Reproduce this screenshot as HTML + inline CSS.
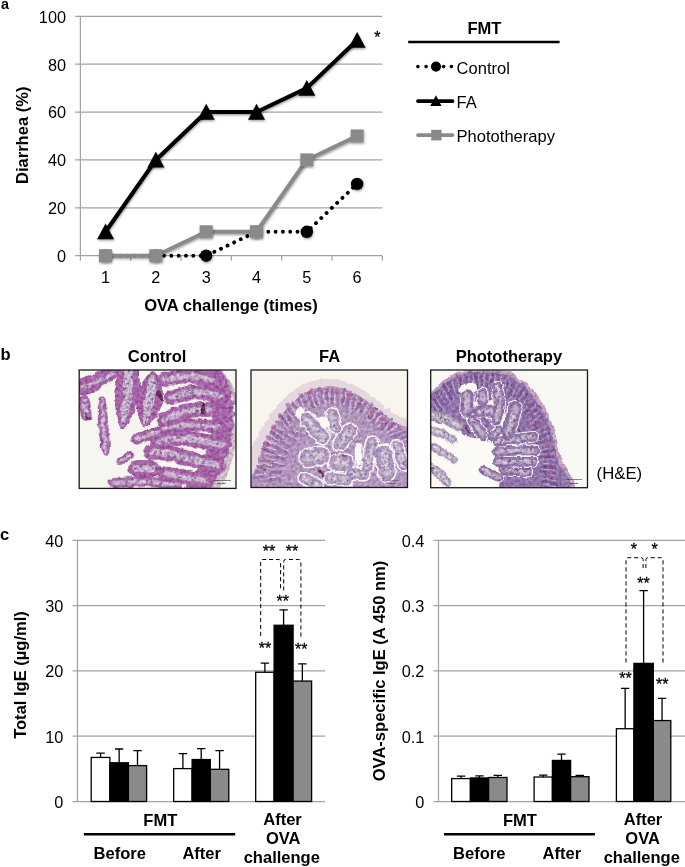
<!DOCTYPE html>
<html><head><meta charset="utf-8"><title>Figure</title>
<style>html,body{margin:0;padding:0;background:#fff}svg{display:block}text{font-family:"Liberation Sans",Arial,Helvetica,sans-serif;fill:#000}</style>
</head><body>
<svg width="685" height="867" viewBox="0 0 685 867">
<defs>
<filter id="sh" x="-30%" y="-30%" width="160%" height="160%"><feDropShadow dx="0.5" dy="1.3" stdDeviation="1" flood-color="#000" flood-opacity="0.4"/></filter>
<clipPath id="clip1"><rect x="0" y="0" width="685" height="519"/></clipPath>
<filter id="rough1" x="0" y="0" width="685" height="519" filterUnits="userSpaceOnUse" color-interpolation-filters="sRGB">
<feTurbulence type="fractalNoise" baseFrequency="0.04" numOctaves="2" seed="3" result="t"/>
<feDisplacementMap in="SourceGraphic" in2="t" scale="18" xChannelSelector="R" yChannelSelector="G" result="d"/>
<feTurbulence type="fractalNoise" baseFrequency="0.075" numOctaves="2" seed="12" result="n"/>
<feColorMatrix in="n" type="matrix" values="1.5 0 0 0 -0.25  1.5 0 0 0 -0.25  1.5 0 0 0 -0.25  0 0 0 0 1" result="g"/>
<feComposite in="d" in2="g" operator="arithmetic" k1="0.07" k2="0.78" k3="0.2" k4="0" result="m0"/>
<feComposite in="m0" in2="d" operator="in" result="m"/>
<feGaussianBlur in="m" stdDeviation="1.5"/>
</filter>
<filter id="soft1" x="0" y="0" width="685" height="519" filterUnits="userSpaceOnUse"><feTurbulence type="fractalNoise" baseFrequency="0.04" numOctaves="2" seed="3" result="t"/><feDisplacementMap in="SourceGraphic" in2="t" scale="18" xChannelSelector="R" yChannelSelector="G" result="d"/><feGaussianBlur in="d" stdDeviation="1.5"/></filter>
<filter id="spk1" x="0" y="0" width="685" height="519" filterUnits="userSpaceOnUse" color-interpolation-filters="sRGB">
<feTurbulence type="fractalNoise" baseFrequency="0.08" numOctaves="2" seed="8" result="n"/>
<feColorMatrix in="n" type="matrix" values="0 0 0 0 0.46  0 0 0 0 0.28  0 0 0 0 0.58  5.5 0 0 0 -2.95" result="s"/>
<feComposite in="s" in2="SourceAlpha" operator="in" result="s2"/>
<feMerge><feMergeNode in="SourceGraphic"/><feMergeNode in="s2"/></feMerge>
</filter>
<clipPath id="clip2"><rect x="0" y="0" width="685" height="515"/></clipPath>
<filter id="rough2" x="0" y="0" width="685" height="515" filterUnits="userSpaceOnUse" color-interpolation-filters="sRGB">
<feTurbulence type="fractalNoise" baseFrequency="0.04" numOctaves="2" seed="11" result="t"/>
<feDisplacementMap in="SourceGraphic" in2="t" scale="18" xChannelSelector="R" yChannelSelector="G" result="d"/>
<feTurbulence type="fractalNoise" baseFrequency="0.075" numOctaves="2" seed="20" result="n"/>
<feColorMatrix in="n" type="matrix" values="1.5 0 0 0 -0.25  1.5 0 0 0 -0.25  1.5 0 0 0 -0.25  0 0 0 0 1" result="g"/>
<feComposite in="d" in2="g" operator="arithmetic" k1="0.07" k2="0.78" k3="0.2" k4="0" result="m0"/>
<feComposite in="m0" in2="d" operator="in" result="m"/>
<feGaussianBlur in="m" stdDeviation="1.5"/>
</filter>
<filter id="soft2" x="0" y="0" width="685" height="515" filterUnits="userSpaceOnUse"><feTurbulence type="fractalNoise" baseFrequency="0.04" numOctaves="2" seed="11" result="t"/><feDisplacementMap in="SourceGraphic" in2="t" scale="18" xChannelSelector="R" yChannelSelector="G" result="d"/><feGaussianBlur in="d" stdDeviation="1.5"/></filter>
<filter id="spk2" x="0" y="0" width="685" height="515" filterUnits="userSpaceOnUse" color-interpolation-filters="sRGB">
<feTurbulence type="fractalNoise" baseFrequency="0.08" numOctaves="2" seed="16" result="n"/>
<feColorMatrix in="n" type="matrix" values="0 0 0 0 0.5  0 0 0 0 0.38  0 0 0 0 0.66  5.5 0 0 0 -2.95" result="s"/>
<feComposite in="s" in2="SourceAlpha" operator="in" result="s2"/>
<feMerge><feMergeNode in="SourceGraphic"/><feMergeNode in="s2"/></feMerge>
</filter>
<clipPath id="clip3"><rect x="0" y="0" width="685" height="515"/></clipPath>
<filter id="rough3" x="0" y="0" width="685" height="515" filterUnits="userSpaceOnUse" color-interpolation-filters="sRGB">
<feTurbulence type="fractalNoise" baseFrequency="0.04" numOctaves="2" seed="21" result="t"/>
<feDisplacementMap in="SourceGraphic" in2="t" scale="18" xChannelSelector="R" yChannelSelector="G" result="d"/>
<feTurbulence type="fractalNoise" baseFrequency="0.075" numOctaves="2" seed="30" result="n"/>
<feColorMatrix in="n" type="matrix" values="1.5 0 0 0 -0.25  1.5 0 0 0 -0.25  1.5 0 0 0 -0.25  0 0 0 0 1" result="g"/>
<feComposite in="d" in2="g" operator="arithmetic" k1="0.07" k2="0.78" k3="0.2" k4="0" result="m0"/>
<feComposite in="m0" in2="d" operator="in" result="m"/>
<feGaussianBlur in="m" stdDeviation="1.5"/>
</filter>
<filter id="soft3" x="0" y="0" width="685" height="515" filterUnits="userSpaceOnUse"><feTurbulence type="fractalNoise" baseFrequency="0.04" numOctaves="2" seed="21" result="t"/><feDisplacementMap in="SourceGraphic" in2="t" scale="18" xChannelSelector="R" yChannelSelector="G" result="d"/><feGaussianBlur in="d" stdDeviation="1.5"/></filter>
<filter id="spk3" x="0" y="0" width="685" height="515" filterUnits="userSpaceOnUse" color-interpolation-filters="sRGB">
<feTurbulence type="fractalNoise" baseFrequency="0.08" numOctaves="2" seed="26" result="n"/>
<feColorMatrix in="n" type="matrix" values="0 0 0 0 0.36  0 0 0 0 0.25  0 0 0 0 0.5  5.5 0 0 0 -2.95" result="s"/>
<feComposite in="s" in2="SourceAlpha" operator="in" result="s2"/>
<feMerge><feMergeNode in="SourceGraphic"/><feMergeNode in="s2"/></feMerge>
</filter>

</defs>
<rect width="685" height="867" fill="#fff"/>
<line x1="75.10" y1="255.70" x2="382.3" y2="255.70" stroke="#a3a3a3" stroke-width="1.25"/>
<text x="66.00" y="262.10" text-anchor="end" font-size="16.3">0</text>
<line x1="75.10" y1="207.82" x2="382.3" y2="207.82" stroke="#a3a3a3" stroke-width="1.25"/>
<text x="66.00" y="214.22" text-anchor="end" font-size="16.3">20</text>
<line x1="75.10" y1="159.94" x2="382.3" y2="159.94" stroke="#a3a3a3" stroke-width="1.25"/>
<text x="66.00" y="166.34" text-anchor="end" font-size="16.3">40</text>
<line x1="75.10" y1="112.06" x2="382.3" y2="112.06" stroke="#a3a3a3" stroke-width="1.25"/>
<text x="66.00" y="118.46" text-anchor="end" font-size="16.3">60</text>
<line x1="75.10" y1="64.18" x2="382.3" y2="64.18" stroke="#a3a3a3" stroke-width="1.25"/>
<text x="66.00" y="70.58" text-anchor="end" font-size="16.3">80</text>
<line x1="75.10" y1="16.30" x2="382.3" y2="16.30" stroke="#a3a3a3" stroke-width="1.25"/>
<text x="66.00" y="22.70" text-anchor="end" font-size="16.3">100</text>
<line x1="80.4" y1="16.3" x2="80.4" y2="260.7" stroke="#a3a3a3" stroke-width="1.25"/>
<line x1="130.72" y1="255.7" x2="130.72" y2="260.7" stroke="#a3a3a3" stroke-width="1.25"/>
<line x1="181.03" y1="255.7" x2="181.03" y2="260.7" stroke="#a3a3a3" stroke-width="1.25"/>
<line x1="231.35" y1="255.7" x2="231.35" y2="260.7" stroke="#a3a3a3" stroke-width="1.25"/>
<line x1="281.67" y1="255.7" x2="281.67" y2="260.7" stroke="#a3a3a3" stroke-width="1.25"/>
<line x1="331.98" y1="255.7" x2="331.98" y2="260.7" stroke="#a3a3a3" stroke-width="1.25"/>
<line x1="382.30" y1="255.7" x2="382.30" y2="260.7" stroke="#a3a3a3" stroke-width="1.25"/>
<text x="105.56" y="282.6" text-anchor="middle" font-size="16.3">1</text>
<text x="155.88" y="282.6" text-anchor="middle" font-size="16.3">2</text>
<text x="206.19" y="282.6" text-anchor="middle" font-size="16.3">3</text>
<text x="256.51" y="282.6" text-anchor="middle" font-size="16.3">4</text>
<text x="306.82" y="282.6" text-anchor="middle" font-size="16.3">5</text>
<text x="357.14" y="282.6" text-anchor="middle" font-size="16.3">6</text>
<polyline points="105.56,255.70 155.88,255.70 206.19,255.70 256.51,231.76 306.82,231.76 357.14,183.88" fill="none" stroke="#000" stroke-width="3.9" stroke-dasharray="0.01 7.3" stroke-linecap="round"/>
<circle cx="105.56" cy="255.70" r="6.2" fill="#000" filter="url(#sh)"/>
<circle cx="155.88" cy="255.70" r="6.2" fill="#000" filter="url(#sh)"/>
<circle cx="206.19" cy="255.70" r="6.2" fill="#000" filter="url(#sh)"/>
<circle cx="256.51" cy="231.76" r="6.2" fill="#000" filter="url(#sh)"/>
<circle cx="306.82" cy="231.76" r="6.2" fill="#000" filter="url(#sh)"/>
<circle cx="357.14" cy="183.88" r="6.2" fill="#000" filter="url(#sh)"/>
<polyline points="105.56,255.70 155.88,255.70 206.19,231.76 256.51,231.76 306.82,159.94 357.14,136.00" fill="none" stroke="#8a8a8a" stroke-width="4" stroke-linejoin="round" filter="url(#sh)"/>
<rect x="99.06" y="249.20" width="13" height="13" fill="#8a8a8a" filter="url(#sh)"/>
<rect x="149.38" y="249.20" width="13" height="13" fill="#8a8a8a" filter="url(#sh)"/>
<rect x="199.69" y="225.26" width="13" height="13" fill="#8a8a8a" filter="url(#sh)"/>
<rect x="250.01" y="225.26" width="13" height="13" fill="#8a8a8a" filter="url(#sh)"/>
<rect x="300.32" y="153.44" width="13" height="13" fill="#8a8a8a" filter="url(#sh)"/>
<rect x="350.64" y="129.50" width="13" height="13" fill="#8a8a8a" filter="url(#sh)"/>
<polyline points="105.56,231.76 155.88,159.94 206.19,112.06 256.51,112.06 306.82,88.12 357.14,40.24" fill="none" stroke="#000" stroke-width="4" stroke-linejoin="round" filter="url(#sh)"/>
<polygon points="105.56,223.56 114.06,239.36 97.06,239.36" fill="#000" filter="url(#sh)"/>
<polygon points="155.88,151.74 164.38,167.54 147.38,167.54" fill="#000" filter="url(#sh)"/>
<polygon points="206.19,103.86 214.69,119.66 197.69,119.66" fill="#000" filter="url(#sh)"/>
<polygon points="256.51,103.86 265.01,119.66 248.01,119.66" fill="#000" filter="url(#sh)"/>
<polygon points="306.82,79.92 315.32,95.72 298.32,95.72" fill="#000" filter="url(#sh)"/>
<polygon points="357.14,32.04 365.64,47.84 348.64,47.84" fill="#000" filter="url(#sh)"/>
<text x="377.3" y="43.1" text-anchor="middle" font-size="16" stroke="#000" stroke-width="0.3">*</text>
<text x="4.9" y="8.9" font-size="14.3" font-weight="bold" text-anchor="middle">a</text>
<text transform="translate(27.9,135.3) rotate(-90)" text-anchor="middle" font-size="16.55" font-weight="bold">Diarrhea (%)</text>
<text x="231" y="310.6" text-anchor="middle" font-size="16.55" font-weight="bold">OVA challenge (times)</text>
<text x="484.4" y="33.6" text-anchor="middle" font-size="16.55" font-weight="bold">FMT</text>
<line x1="408.2" y1="42" x2="559.6" y2="42" stroke="#000" stroke-width="2.4"/>
<circle cx="417.9" cy="66.6" r="1.8" fill="#000"/>
<circle cx="426.1" cy="66.6" r="1.8" fill="#000"/>
<circle cx="443.6" cy="66.6" r="1.8" fill="#000"/>
<circle cx="451.4" cy="66.6" r="1.8" fill="#000"/>
<circle cx="436" cy="66.6" r="5.1" fill="#000"/>
<text x="456.6" y="73.70" font-size="16.55">Control</text>
<line x1="418" y1="101.1" x2="452.5" y2="101.1" stroke="#000" stroke-width="3.8" stroke-linecap="round"/>
<polygon points="435.9,95.20 441.6,105.90 430.2,105.90" fill="#000"/>
<text x="456.6" y="108.20" font-size="16.55">FA</text>
<line x1="418" y1="135.1" x2="452.5" y2="135.1" stroke="#8a8a8a" stroke-width="3.8" stroke-linecap="round"/>
<rect x="431.2" y="129.80" width="10.4" height="10.6" fill="#8a8a8a"/>
<text x="456.6" y="142.40" font-size="16.55">Phototherapy</text>
<text x="5.6" y="359.7" font-size="16.55" font-weight="bold" text-anchor="middle">b</text>
<text x="157.1" y="362.1" text-anchor="middle" font-size="16.55" font-weight="bold">Control</text>
<text x="329.6" y="362.1" text-anchor="middle" font-size="16.55" font-weight="bold">FA</text>
<text x="508.9" y="362" text-anchor="middle" font-size="16.55" font-weight="bold">Phototherapy</text>
<text x="596.6" y="479.3" font-size="16.3" textLength="45.6" lengthAdjust="spacingAndGlyphs">(H&amp;E)</text>
<g transform="translate(79.2,370) scale(0.22891,0.22813)" clip-path="url(#clip1)">
<rect x="0" y="0" width="685" height="519" fill="#f7f5f0"/>
<g filter="url(#rough1)">
<path d="M655.0,225.0 C657.8,230.8 670.5,242.5 672.0,260.0 C673.5,277.5 668.3,306.7 664.0,330.0 C659.7,353.3 653.0,377.5 646.0,400.0 C639.0,422.5 631.3,443.3 622.0,465.0 C612.7,486.7 595.3,519.2 590.0,530.0" fill="none" stroke="#d9c9d6" stroke-width="40" stroke-linecap="round" stroke-linejoin="round"/>
<path d="M598.0,-10.0 C606.3,-0.3 634.3,26.7 648.0,48.0 C661.7,69.3 671.3,92.7 680.0,118.0 C688.7,143.3 696.7,186.3 700.0,200.0" fill="none" stroke="#c6a6c4" stroke-width="18" stroke-linecap="round" stroke-linejoin="round"/>
<path d="M540.0,-10.0 C548.7,-0.8 579.0,25.0 592.0,45.0 C605.0,65.0 612.3,84.2 618.0,110.0 C623.7,135.8 626.3,168.3 626.0,200.0 C625.7,231.7 622.0,268.3 616.0,300.0 C610.0,331.7 601.3,361.7 590.0,390.0 C578.7,418.3 562.2,446.7 548.0,470.0 C533.8,493.3 512.2,520.0 505.0,530.0" fill="none" stroke="#ad5aae" stroke-width="92" stroke-linecap="round" stroke-linejoin="round"/>
<ellipse cx="585" cy="22" rx="24" ry="17" fill="#8f4094" transform="rotate(-60 585 22)"/>
<ellipse cx="585" cy="22" rx="20" ry="13" fill="#ba70bc" transform="rotate(-60 585 22)"/>
<ellipse cx="622" cy="62" rx="24" ry="17" fill="#8f4094" transform="rotate(-49 622 62)"/>
<ellipse cx="622" cy="62" rx="20" ry="13" fill="#ba70bc" transform="rotate(-49 622 62)"/>
<ellipse cx="642" cy="105" rx="24" ry="17" fill="#8f4094" transform="rotate(-38 642 105)"/>
<ellipse cx="642" cy="105" rx="20" ry="13" fill="#ba70bc" transform="rotate(-38 642 105)"/>
<ellipse cx="655" cy="150" rx="24" ry="17" fill="#8f4094" transform="rotate(-27 655 150)"/>
<ellipse cx="655" cy="150" rx="20" ry="13" fill="#ba70bc" transform="rotate(-27 655 150)"/>
<ellipse cx="660" cy="195" rx="24" ry="17" fill="#8f4094" transform="rotate(-16 660 195)"/>
<ellipse cx="660" cy="195" rx="20" ry="13" fill="#ba70bc" transform="rotate(-16 660 195)"/>
<ellipse cx="655" cy="240" rx="24" ry="17" fill="#8f4094" transform="rotate(-5 655 240)"/>
<ellipse cx="655" cy="240" rx="20" ry="13" fill="#ba70bc" transform="rotate(-5 655 240)"/>
<ellipse cx="648" cy="285" rx="24" ry="17" fill="#8f4094" transform="rotate(6 648 285)"/>
<ellipse cx="648" cy="285" rx="20" ry="13" fill="#ba70bc" transform="rotate(6 648 285)"/>
<ellipse cx="636" cy="330" rx="24" ry="17" fill="#8f4094" transform="rotate(17 636 330)"/>
<ellipse cx="636" cy="330" rx="20" ry="13" fill="#ba70bc" transform="rotate(17 636 330)"/>
<ellipse cx="622" cy="372" rx="24" ry="17" fill="#8f4094" transform="rotate(28 622 372)"/>
<ellipse cx="622" cy="372" rx="20" ry="13" fill="#ba70bc" transform="rotate(28 622 372)"/>
<ellipse cx="604" cy="412" rx="24" ry="17" fill="#8f4094" transform="rotate(39 604 412)"/>
<ellipse cx="604" cy="412" rx="20" ry="13" fill="#ba70bc" transform="rotate(39 604 412)"/>
<ellipse cx="582" cy="450" rx="24" ry="17" fill="#8f4094" transform="rotate(50 582 450)"/>
<ellipse cx="582" cy="450" rx="20" ry="13" fill="#ba70bc" transform="rotate(50 582 450)"/>
<ellipse cx="556" cy="486" rx="24" ry="17" fill="#8f4094" transform="rotate(61 556 486)"/>
<ellipse cx="556" cy="486" rx="20" ry="13" fill="#ba70bc" transform="rotate(61 556 486)"/>
<path d="M588.0,46.0 C570.0,42.7 516.0,26.7 480.0,26.0 C444.0,25.3 390.0,39.3 372.0,42.0" fill="none" stroke="#8f4094" stroke-width="63" stroke-linecap="round" stroke-linejoin="round"/>
<path d="M588.0,46.0 C570.0,42.7 516.0,26.7 480.0,26.0 C444.0,25.3 390.0,39.3 372.0,42.0" fill="none" stroke="#ad5aae" stroke-width="60" stroke-linecap="round" stroke-linejoin="round"/>
<path d="M588.0,46.0 C570.0,42.7 516.0,26.7 480.0,26.0 C444.0,25.3 390.0,39.3 372.0,42.0" fill="none" stroke="#dcc6e0" stroke-width="24.0" stroke-linecap="round" stroke-linejoin="round" filter="url(#spk1)"/>
<path d="M612.0,112.0 C593.3,109.3 535.3,94.3 500.0,96.0 C464.7,97.7 416.7,117.7 400.0,122.0" fill="none" stroke="#8f4094" stroke-width="63" stroke-linecap="round" stroke-linejoin="round"/>
<path d="M612.0,112.0 C593.3,109.3 535.3,94.3 500.0,96.0 C464.7,97.7 416.7,117.7 400.0,122.0" fill="none" stroke="#ad5aae" stroke-width="60" stroke-linecap="round" stroke-linejoin="round"/>
<path d="M612.0,112.0 C593.3,109.3 535.3,94.3 500.0,96.0 C464.7,97.7 416.7,117.7 400.0,122.0" fill="none" stroke="#dcc6e0" stroke-width="24.0" stroke-linecap="round" stroke-linejoin="round" filter="url(#spk1)"/>
<path d="M572.0,172.0 C554.2,173.3 498.3,172.3 465.0,180.0 C431.7,187.7 387.5,211.7 372.0,218.0" fill="none" stroke="#8f4094" stroke-width="67" stroke-linecap="round" stroke-linejoin="round"/>
<path d="M572.0,172.0 C554.2,173.3 498.3,172.3 465.0,180.0 C431.7,187.7 387.5,211.7 372.0,218.0" fill="none" stroke="#ad5aae" stroke-width="64" stroke-linecap="round" stroke-linejoin="round"/>
<path d="M572.0,172.0 C554.2,173.3 498.3,172.3 465.0,180.0 C431.7,187.7 387.5,211.7 372.0,218.0" fill="none" stroke="#dcc6e0" stroke-width="25.6" stroke-linecap="round" stroke-linejoin="round" filter="url(#spk1)"/>
<path d="M612.0,250.0 C590.8,248.3 525.0,238.7 485.0,240.0 C445.0,241.3 390.8,255.0 372.0,258.0" fill="none" stroke="#8f4094" stroke-width="53" stroke-linecap="round" stroke-linejoin="round"/>
<path d="M612.0,250.0 C590.8,248.3 525.0,238.7 485.0,240.0 C445.0,241.3 390.8,255.0 372.0,258.0" fill="none" stroke="#ad5aae" stroke-width="50" stroke-linecap="round" stroke-linejoin="round"/>
<path d="M612.0,250.0 C590.8,248.3 525.0,238.7 485.0,240.0 C445.0,241.3 390.8,255.0 372.0,258.0" fill="none" stroke="#dcc6e0" stroke-width="20.0" stroke-linecap="round" stroke-linejoin="round" filter="url(#spk1)"/>
<path d="M628.0,330.0 C607.5,325.7 542.2,309.0 505.0,304.0 C467.8,299.0 431.7,298.0 405.0,300.0 C378.3,302.0 355.0,313.3 345.0,316.0" fill="none" stroke="#8f4094" stroke-width="68" stroke-linecap="round" stroke-linejoin="round"/>
<path d="M628.0,330.0 C607.5,325.7 542.2,309.0 505.0,304.0 C467.8,299.0 431.7,298.0 405.0,300.0 C378.3,302.0 355.0,313.3 345.0,316.0" fill="none" stroke="#ad5aae" stroke-width="65" stroke-linecap="round" stroke-linejoin="round"/>
<path d="M628.0,330.0 C607.5,325.7 542.2,309.0 505.0,304.0 C467.8,299.0 431.7,298.0 405.0,300.0 C378.3,302.0 355.0,313.3 345.0,316.0" fill="none" stroke="#dcc6e0" stroke-width="26.0" stroke-linecap="round" stroke-linejoin="round" filter="url(#spk1)"/>
<path d="M608.0,418.0 C590.0,414.0 534.7,402.7 500.0,394.0 C465.3,385.3 430.8,372.0 400.0,366.0 C369.2,360.0 329.2,359.3 315.0,358.0" fill="none" stroke="#8f4094" stroke-width="67" stroke-linecap="round" stroke-linejoin="round"/>
<path d="M608.0,418.0 C590.0,414.0 534.7,402.7 500.0,394.0 C465.3,385.3 430.8,372.0 400.0,366.0 C369.2,360.0 329.2,359.3 315.0,358.0" fill="none" stroke="#ad5aae" stroke-width="64" stroke-linecap="round" stroke-linejoin="round"/>
<path d="M608.0,418.0 C590.0,414.0 534.7,402.7 500.0,394.0 C465.3,385.3 430.8,372.0 400.0,366.0 C369.2,360.0 329.2,359.3 315.0,358.0" fill="none" stroke="#dcc6e0" stroke-width="25.6" stroke-linecap="round" stroke-linejoin="round" filter="url(#spk1)"/>
<path d="M548.0,484.0 C533.3,481.7 489.3,475.3 460.0,470.0 C430.7,464.7 386.7,455.0 372.0,452.0" fill="none" stroke="#8f4094" stroke-width="61" stroke-linecap="round" stroke-linejoin="round"/>
<path d="M548.0,484.0 C533.3,481.7 489.3,475.3 460.0,470.0 C430.7,464.7 386.7,455.0 372.0,452.0" fill="none" stroke="#ad5aae" stroke-width="58" stroke-linecap="round" stroke-linejoin="round"/>
<path d="M548.0,484.0 C533.3,481.7 489.3,475.3 460.0,470.0 C430.7,464.7 386.7,455.0 372.0,452.0" fill="none" stroke="#dcc6e0" stroke-width="23.2" stroke-linecap="round" stroke-linejoin="round" filter="url(#spk1)"/>
<path d="M340.0,274.0 L252.0,302.0" fill="none" stroke="#8f4094" stroke-width="49" stroke-linecap="round" stroke-linejoin="round"/>
<path d="M340.0,274.0 L252.0,302.0" fill="none" stroke="#ad5aae" stroke-width="46" stroke-linecap="round" stroke-linejoin="round"/>
<path d="M340.0,274.0 L252.0,302.0" fill="none" stroke="#dcc6e0" stroke-width="18.4" stroke-linecap="round" stroke-linejoin="round" filter="url(#spk1)"/>
<path d="M222.0,373.0 L180.0,398.0" fill="none" stroke="#8f4094" stroke-width="35" stroke-linecap="round" stroke-linejoin="round"/>
<path d="M222.0,373.0 L180.0,398.0" fill="none" stroke="#ad5aae" stroke-width="32" stroke-linecap="round" stroke-linejoin="round"/>
<path d="M222.0,373.0 L180.0,398.0" fill="none" stroke="#dcc6e0" stroke-width="12.8" stroke-linecap="round" stroke-linejoin="round" filter="url(#spk1)"/>
<path d="M250.0,432.0 L318.0,432.0" fill="none" stroke="#8f4094" stroke-width="73" stroke-linecap="round" stroke-linejoin="round"/>
<path d="M250.0,432.0 L318.0,432.0" fill="none" stroke="#ad5aae" stroke-width="70" stroke-linecap="round" stroke-linejoin="round"/>
<path d="M250.0,432.0 L318.0,432.0" fill="none" stroke="#dcc6e0" stroke-width="28.0" stroke-linecap="round" stroke-linejoin="round" filter="url(#spk1)"/>
<path d="M150.0,496.0 C175.0,495.0 253.3,488.7 300.0,490.0 C346.7,491.3 408.3,501.7 430.0,504.0" fill="none" stroke="#8f4094" stroke-width="45" stroke-linecap="round" stroke-linejoin="round"/>
<path d="M150.0,496.0 C175.0,495.0 253.3,488.7 300.0,490.0 C346.7,491.3 408.3,501.7 430.0,504.0" fill="none" stroke="#ad5aae" stroke-width="42" stroke-linecap="round" stroke-linejoin="round"/>
<path d="M150.0,496.0 C175.0,495.0 253.3,488.7 300.0,490.0 C346.7,491.3 408.3,501.7 430.0,504.0" fill="none" stroke="#dcc6e0" stroke-width="16.8" stroke-linecap="round" stroke-linejoin="round" filter="url(#spk1)"/>
<path d="M22.0,135.0 L30.0,198.0" fill="none" stroke="#8f4094" stroke-width="49" stroke-linecap="round" stroke-linejoin="round"/>
<path d="M22.0,135.0 L30.0,198.0" fill="none" stroke="#ad5aae" stroke-width="46" stroke-linecap="round" stroke-linejoin="round"/>
<path d="M22.0,135.0 L30.0,198.0" fill="none" stroke="#dcc6e0" stroke-width="18.4" stroke-linecap="round" stroke-linejoin="round" filter="url(#spk1)"/>
<path d="M-10.0,49.0 C0.0,34.7 31.0,31.2 50.0,22.0 C69.0,12.8 83.7,-1.0 104.0,-6.0 C124.3,-11.0 161.0,-14.0 172.0,-8.0 C183.0,-2.0 181.3,17.7 170.0,30.0 C158.7,42.3 122.0,54.0 104.0,66.0 C86.0,78.0 81.0,95.0 62.0,102.0 C43.0,109.0 2.0,116.8 -10.0,108.0 C-22.0,99.2 -20.0,63.3 -10.0,49.0Z" fill="#8f4094"/>
<path d="M-8.0,53.0 C2.0,40.0 33.0,35.3 52.0,26.0 C71.0,16.7 86.3,2.3 106.0,-3.0 C125.7,-8.3 159.8,-11.0 170.0,-6.0 C180.2,-1.0 178.3,15.7 167.0,27.0 C155.7,38.3 119.8,50.2 102.0,62.0 C84.2,73.8 78.3,91.0 60.0,98.0 C41.7,105.0 3.3,111.5 -8.0,104.0 C-19.3,96.5 -18.0,66.0 -8.0,53.0Z" fill="#ad5aae"/>
<path d="M12.0,78.0 C20.0,75.0 43.7,67.3 60.0,60.0 C76.3,52.7 95.0,41.7 110.0,34.0 C125.0,26.3 143.3,17.3 150.0,14.0" fill="none" stroke="#dcc6e0" stroke-width="14" stroke-linecap="round" filter="url(#spk1)"/>
<path d="M218.3,-51.4 C204.4,-52.2 184.7,-36.7 174.6,-12.3 C164.5,12.2 160.2,61.5 157.7,95.2 C155.3,128.8 157.1,165.0 159.9,189.6 C162.7,214.2 170.2,231.1 174.7,242.7 C179.2,254.3 181.9,258.6 186.7,259.3 C191.5,260.1 195.4,257.1 203.3,247.3 C211.2,237.5 224.3,224.1 234.1,200.4 C243.9,176.6 258.4,139.5 262.3,104.8 C266.2,70.2 264.8,18.3 257.4,-7.7 C250.1,-33.8 232.1,-50.7 218.3,-51.4Z" fill="#8f4094"/>
<path d="M218.2,-49.9 C204.9,-50.7 185.9,-36.4 176.1,-12.2 C166.2,12.0 161.7,61.6 159.2,95.3 C156.8,129.0 158.5,165.2 161.4,189.8 C164.2,214.4 171.9,231.6 176.2,242.9 C180.4,254.3 182.7,257.2 186.9,257.8 C191.2,258.5 194.2,256.7 201.8,247.1 C209.5,237.4 222.8,223.9 232.6,200.2 C242.5,176.4 256.9,139.4 260.8,104.7 C264.7,70.0 263.0,18.0 255.9,-7.8 C248.8,-33.6 231.5,-49.2 218.2,-49.9Z" fill="#ad5aae"/>
<path d="M216.9,-26.8 C211.3,-27.1 203.9,-31.7 199.2,-10.9 C194.5,9.9 191.5,64.1 188.7,98.0 C185.8,132.0 182.9,168.5 182.0,192.8 C181.2,217.2 182.6,234.5 183.6,244.1 C184.6,253.7 186.3,250.1 188.1,250.4 C189.9,250.7 190.4,254.7 194.4,245.9 C198.4,237.0 205.8,221.1 212.0,197.2 C218.1,173.2 227.9,136.4 231.3,102.0 C234.8,67.6 235.2,12.4 232.8,-9.1 C230.4,-30.5 222.5,-26.5 216.9,-26.8Z" fill="#dcc6e0" filter="url(#spk1)"/>
<path d="M323.6,5.7 C313.8,4.5 301.6,17.0 290.7,31.4 C279.8,45.8 264.6,69.0 258.1,92.2 C251.5,115.4 249.9,148.1 251.4,170.6 C252.9,193.1 262.1,213.9 267.1,227.3 C272.1,240.7 275.0,249.3 281.3,250.9 C287.6,252.5 294.0,247.0 304.9,236.7 C315.8,226.5 336.4,210.9 346.6,189.4 C356.8,167.9 365.5,132.9 365.9,107.8 C366.4,82.7 356.3,55.6 349.3,38.6 C342.2,21.6 333.4,6.9 323.6,5.7Z" fill="#8f4094"/>
<path d="M323.4,7.2 C314.2,6.1 302.9,17.4 292.2,31.6 C281.6,45.8 266.1,69.2 259.5,92.4 C253.0,115.6 251.4,148.4 252.9,170.9 C254.4,193.5 263.7,214.5 268.5,227.6 C273.3,240.7 275.8,248.0 281.6,249.5 C287.5,250.9 292.9,246.4 303.5,236.4 C314.0,226.3 334.9,210.5 345.1,189.1 C355.3,167.6 364.0,132.7 364.5,107.6 C364.9,82.5 354.6,55.2 347.8,38.4 C341.0,21.7 332.7,8.3 323.4,7.2Z" fill="#ad5aae"/>
<path d="M321.4,23.3 C317.5,22.8 313.6,21.3 308.3,33.6 C303.1,45.8 294.8,73.0 290.0,96.8 C285.2,120.6 281.5,154.0 279.6,176.2 C277.7,198.4 277.9,219.6 278.7,230.2 C279.4,240.7 281.7,238.7 284.2,239.3 C286.6,239.9 287.6,243.1 293.3,233.8 C299.0,224.6 311.6,205.6 318.4,183.8 C325.2,162.0 331.8,127.8 334.0,103.2 C336.2,78.6 333.8,49.7 331.7,36.4 C329.6,23.1 325.3,23.8 321.4,23.3Z" fill="#dcc6e0" filter="url(#spk1)"/>
<path d="M98.2,112.5 C93.0,112.8 86.1,106.4 83.5,128.8 C80.9,151.1 80.7,211.9 82.6,246.6 C84.4,281.3 90.4,317.0 94.6,337.1 C98.8,357.2 103.5,360.8 107.6,367.3 C111.7,373.9 115.9,376.9 119.3,376.4 C122.8,376.0 126.1,371.9 128.4,364.7 C130.8,357.4 133.6,353.1 133.4,332.9 C133.2,312.7 130.6,277.7 127.4,243.4 C124.3,209.1 119.4,149.0 114.5,127.2 C109.6,105.4 103.4,112.3 98.2,112.5Z" fill="#8f4094"/>
<path d="M98.3,114.0 C93.6,114.3 87.4,106.6 85.0,128.7 C82.6,150.8 82.2,211.8 84.1,246.5 C85.9,281.2 91.9,316.8 96.1,336.9 C100.3,357.0 105.2,360.8 109.1,367.2 C112.9,373.5 116.2,375.3 119.2,374.9 C122.1,374.5 124.8,371.8 126.9,364.8 C129.1,357.9 132.1,353.3 131.9,333.1 C131.7,312.8 129.1,277.8 125.9,243.5 C122.8,209.2 117.6,148.9 113.0,127.3 C108.4,105.7 102.9,113.8 98.3,114.0Z" fill="#ad5aae"/>
<path d="M98.7,122.1 C96.7,122.2 93.5,107.7 93.1,128.3 C92.7,148.9 94.0,211.1 96.2,245.6 C98.4,280.2 103.5,315.7 106.5,335.8 C109.5,355.9 112.3,360.8 114.3,366.5 C116.3,372.1 117.2,369.9 118.5,369.7 C119.7,369.6 121.2,371.4 121.7,365.5 C122.3,359.6 122.8,354.4 121.5,334.2 C120.2,314.0 116.6,278.8 113.8,244.4 C111.0,209.9 107.4,148.1 104.9,127.7 C102.4,107.3 100.7,122.0 98.7,122.1Z" fill="#dcc6e0" filter="url(#spk1)"/>
<path d="M540.0,150.0 L545.0,188.0" fill="none" stroke="#5a1a4a" stroke-width="16" stroke-linecap="round" stroke-linejoin="round"/>
<path d="M345.0,100.0 L360.0,125.0" fill="none" stroke="#5a1a4a" stroke-width="14" stroke-linecap="round" stroke-linejoin="round"/>
<path d="M30.0,205.0 L45.0,215.0" fill="none" stroke="#5a1a4a" stroke-width="10" stroke-linecap="round" stroke-linejoin="round"/>
</g>
<g><rect x="585" y="484" width="78" height="2.5" fill="#333"/><text x="622" y="501" font-size="11" font-weight="bold" text-anchor="middle" fill="#333">100 µm</text></g>
</g>
<g transform="translate(251,370) scale(0.22847,0.22816)" clip-path="url(#clip2)">
<rect x="0" y="0" width="685" height="515" fill="#f8f5ee"/>
<g filter="url(#soft2)">
<path d="M-30.0,560.0 C-153.3,533.3 -28.0,441.3 -20.0,400.0 C-12.0,358.7 4.7,339.5 18.0,312.0 C31.3,284.5 43.0,262.0 60.0,235.0 C77.0,208.0 98.3,174.8 120.0,150.0 C141.7,125.2 165.0,103.0 190.0,86.0 C215.0,69.0 244.2,56.0 270.0,48.0 C295.8,40.0 320.0,37.0 345.0,38.0 C370.0,39.0 394.2,44.7 420.0,54.0 C445.8,63.3 474.2,78.0 500.0,94.0 C525.8,110.0 551.7,132.3 575.0,150.0 C598.3,167.7 616.7,182.5 640.0,200.0 C663.3,217.5 701.7,195.0 715.0,255.0 C728.3,315.0 844.2,509.2 720.0,560.0 C595.8,610.8 93.3,586.7 -30.0,560.0Z" fill="#e6d6de"/>
</g>
<g filter="url(#rough2)">
<path d="M10.0,560.0 C-105.3,536.7 21.7,455.8 28.0,420.0 C34.3,384.2 38.3,370.3 48.0,345.0 C57.7,319.7 70.3,294.5 86.0,268.0 C101.7,241.5 122.0,210.3 142.0,186.0 C162.0,161.7 183.7,139.3 206.0,122.0 C228.3,104.7 252.8,90.7 276.0,82.0 C299.2,73.3 321.8,69.7 345.0,70.0 C368.2,70.3 390.8,75.3 415.0,84.0 C439.2,92.7 465.5,106.3 490.0,122.0 C514.5,137.7 538.7,160.0 562.0,178.0 C585.3,196.0 606.2,212.2 630.0,230.0 C653.8,247.8 690.0,230.0 705.0,285.0 C720.0,340.0 835.8,514.2 720.0,560.0 C604.2,605.8 125.3,583.3 10.0,560.0Z" fill="#bb98c8"/>
<path d="M20,472 L66,467" stroke="#a06cb0" stroke-width="13" stroke-linecap="round" opacity="0.9"/>
<path d="M25,461 L69,457" stroke="#efe6ee" stroke-width="4" stroke-linecap="round" opacity="0.8"/>
<path d="M20,447 L78,446" stroke="#ac7cba" stroke-width="13" stroke-linecap="round" opacity="0.9"/>
<path d="M26,437 L82,435" stroke="#efe6ee" stroke-width="4" stroke-linecap="round" opacity="0.8"/>
<path d="M29,421 L90,425" stroke="#9863a8" stroke-width="13" stroke-linecap="round" opacity="0.9"/>
<path d="M36,411 L94,415" stroke="#efe6ee" stroke-width="4" stroke-linecap="round" opacity="0.8"/>
<path d="M38,395 L91,403" stroke="#a06cb0" stroke-width="13" stroke-linecap="round" opacity="0.9"/>
<path d="M46,386 L96,394" stroke="#efe6ee" stroke-width="4" stroke-linecap="round" opacity="0.8"/>
<path d="M48,370 L103,383" stroke="#ac7cba" stroke-width="13" stroke-linecap="round" opacity="0.9"/>
<path d="M56,362 L109,374" stroke="#efe6ee" stroke-width="4" stroke-linecap="round" opacity="0.8"/>
<path d="M50,343 L104,361" stroke="#9863a8" stroke-width="13" stroke-linecap="round" opacity="0.9"/>
<path d="M59,335 L111,352" stroke="#efe6ee" stroke-width="4" stroke-linecap="round" opacity="0.8"/>
<path d="M61,318 L116,341" stroke="#a06cb0" stroke-width="13" stroke-linecap="round" opacity="0.9"/>
<path d="M70,311 L123,334" stroke="#efe6ee" stroke-width="4" stroke-linecap="round" opacity="0.8"/>
<path d="M74,294 L120,319" stroke="#ac7cba" stroke-width="13" stroke-linecap="round" opacity="0.9"/>
<path d="M84,288 L128,312" stroke="#efe6ee" stroke-width="4" stroke-linecap="round" opacity="0.8"/>
<path d="M88,272 L134,302" stroke="#9863a8" stroke-width="13" stroke-linecap="round" opacity="0.9"/>
<path d="M99,267 L143,295" stroke="#efe6ee" stroke-width="4" stroke-linecap="round" opacity="0.8"/>
<path d="M103,250 L140,279" stroke="#a06cb0" stroke-width="13" stroke-linecap="round" opacity="0.9"/>
<path d="M114,246 L149,273" stroke="#efe6ee" stroke-width="4" stroke-linecap="round" opacity="0.8"/>
<path d="M111,223 L155,262" stroke="#ac7cba" stroke-width="13" stroke-linecap="round" opacity="0.9"/>
<path d="M122,219 L165,258" stroke="#efe6ee" stroke-width="4" stroke-linecap="round" opacity="0.8"/>
<path d="M130,203 L164,240" stroke="#9863a8" stroke-width="13" stroke-linecap="round" opacity="0.9"/>
<path d="M141,201 L174,237" stroke="#efe6ee" stroke-width="4" stroke-linecap="round" opacity="0.8"/>
<path d="M148,184 L181,226" stroke="#a06cb0" stroke-width="13" stroke-linecap="round" opacity="0.9"/>
<path d="M159,183 L192,223" stroke="#efe6ee" stroke-width="4" stroke-linecap="round" opacity="0.8"/>
<path d="M166,165 L198,213" stroke="#ac7cba" stroke-width="13" stroke-linecap="round" opacity="0.9"/>
<path d="M177,165 L208,210" stroke="#efe6ee" stroke-width="4" stroke-linecap="round" opacity="0.8"/>
<path d="M184,143 L212,194" stroke="#9863a8" stroke-width="13" stroke-linecap="round" opacity="0.9"/>
<path d="M195,144 L223,193" stroke="#efe6ee" stroke-width="4" stroke-linecap="round" opacity="0.8"/>
<path d="M206,130 L232,185" stroke="#a06cb0" stroke-width="13" stroke-linecap="round" opacity="0.9"/>
<path d="M218,131 L243,184" stroke="#efe6ee" stroke-width="4" stroke-linecap="round" opacity="0.8"/>
<path d="M229,116 L247,166" stroke="#ac7cba" stroke-width="13" stroke-linecap="round" opacity="0.9"/>
<path d="M240,118 L258,166" stroke="#efe6ee" stroke-width="4" stroke-linecap="round" opacity="0.8"/>
<path d="M254,108 L270,162" stroke="#9863a8" stroke-width="13" stroke-linecap="round" opacity="0.9"/>
<path d="M266,111 L281,163" stroke="#efe6ee" stroke-width="4" stroke-linecap="round" opacity="0.8"/>
<path d="M280,101 L289,148" stroke="#a06cb0" stroke-width="13" stroke-linecap="round" opacity="0.9"/>
<path d="M291,105 L300,150" stroke="#efe6ee" stroke-width="4" stroke-linecap="round" opacity="0.8"/>
<path d="M304,87 L311,146" stroke="#ac7cba" stroke-width="13" stroke-linecap="round" opacity="0.9"/>
<path d="M314,91 L322,149" stroke="#efe6ee" stroke-width="4" stroke-linecap="round" opacity="0.8"/>
<path d="M331,87 L333,139" stroke="#9863a8" stroke-width="13" stroke-linecap="round" opacity="0.9"/>
<path d="M341,92 L344,142" stroke="#efe6ee" stroke-width="4" stroke-linecap="round" opacity="0.8"/>
<path d="M357,87 L356,142" stroke="#a06cb0" stroke-width="13" stroke-linecap="round" opacity="0.9"/>
<path d="M367,93 L366,146" stroke="#efe6ee" stroke-width="4" stroke-linecap="round" opacity="0.8"/>
<path d="M383,91 L379,138" stroke="#ac7cba" stroke-width="13" stroke-linecap="round" opacity="0.9"/>
<path d="M392,98 L388,143" stroke="#efe6ee" stroke-width="4" stroke-linecap="round" opacity="0.8"/>
<path d="M410,91 L400,150" stroke="#9863a8" stroke-width="13" stroke-linecap="round" opacity="0.9"/>
<path d="M418,99 L409,155" stroke="#efe6ee" stroke-width="4" stroke-linecap="round" opacity="0.8"/>
<path d="M435,101 L420,161" stroke="#a06cb0" stroke-width="13" stroke-linecap="round" opacity="0.9"/>
<path d="M443,109 L429,167" stroke="#efe6ee" stroke-width="4" stroke-linecap="round" opacity="0.8"/>
<path d="M459,113 L442,164" stroke="#ac7cba" stroke-width="13" stroke-linecap="round" opacity="0.9"/>
<path d="M466,121 L450,171" stroke="#efe6ee" stroke-width="4" stroke-linecap="round" opacity="0.8"/>
<path d="M481,127 L459,180" stroke="#9863a8" stroke-width="13" stroke-linecap="round" opacity="0.9"/>
<path d="M488,137 L467,188" stroke="#efe6ee" stroke-width="4" stroke-linecap="round" opacity="0.8"/>
<path d="M504,142 L481,186" stroke="#a06cb0" stroke-width="13" stroke-linecap="round" opacity="0.9"/>
<path d="M510,152 L488,194" stroke="#efe6ee" stroke-width="4" stroke-linecap="round" opacity="0.8"/>
<path d="M529,151 L497,202" stroke="#ac7cba" stroke-width="13" stroke-linecap="round" opacity="0.9"/>
<path d="M535,161 L504,211" stroke="#efe6ee" stroke-width="4" stroke-linecap="round" opacity="0.8"/>
<path d="M550,168 L518,211" stroke="#9863a8" stroke-width="13" stroke-linecap="round" opacity="0.9"/>
<path d="M554,179 L524,220" stroke="#efe6ee" stroke-width="4" stroke-linecap="round" opacity="0.8"/>
<path d="M570,186 L533,228" stroke="#a06cb0" stroke-width="13" stroke-linecap="round" opacity="0.9"/>
<path d="M573,197 L538,238" stroke="#efe6ee" stroke-width="4" stroke-linecap="round" opacity="0.8"/>
<path d="M589,204 L555,237" stroke="#ac7cba" stroke-width="13" stroke-linecap="round" opacity="0.9"/>
<path d="M592,215 L559,247" stroke="#efe6ee" stroke-width="4" stroke-linecap="round" opacity="0.8"/>
<path d="M615,216 L569,255" stroke="#9863a8" stroke-width="13" stroke-linecap="round" opacity="0.9"/>
<path d="M617,228 L573,265" stroke="#efe6ee" stroke-width="4" stroke-linecap="round" opacity="0.8"/>
<path d="M634,234 L592,265" stroke="#a06cb0" stroke-width="13" stroke-linecap="round" opacity="0.9"/>
<path d="M635,246 L594,275" stroke="#efe6ee" stroke-width="4" stroke-linecap="round" opacity="0.8"/>
<path d="M653,253 L606,282" stroke="#ac7cba" stroke-width="13" stroke-linecap="round" opacity="0.9"/>
<path d="M653,264 L608,292" stroke="#efe6ee" stroke-width="4" stroke-linecap="round" opacity="0.8"/>
<path d="M671,271 L620,298" stroke="#9863a8" stroke-width="13" stroke-linecap="round" opacity="0.9"/>
<path d="M670,282 L621,308" stroke="#efe6ee" stroke-width="4" stroke-linecap="round" opacity="0.8"/>
<path d="M689,288 L643,309" stroke="#a06cb0" stroke-width="13" stroke-linecap="round" opacity="0.9"/>
<path d="M688,300 L644,319" stroke="#efe6ee" stroke-width="4" stroke-linecap="round" opacity="0.8"/>
<path d="M715,302 L657,324" stroke="#ac7cba" stroke-width="13" stroke-linecap="round" opacity="0.9"/>
<path d="M713,314 L657,335" stroke="#efe6ee" stroke-width="4" stroke-linecap="round" opacity="0.8"/>
<path d="M82,483 L124,476" stroke="#9a66b2" stroke-width="14" stroke-linecap="round" opacity="0.85"/>
<path d="M84,471 L120,466" stroke="#efe6ee" stroke-width="4" stroke-linecap="round" opacity="0.8"/>
<path d="M90,449 L132,448" stroke="#9a66b2" stroke-width="14" stroke-linecap="round" opacity="0.85"/>
<path d="M94,438 L130,437" stroke="#efe6ee" stroke-width="4" stroke-linecap="round" opacity="0.8"/>
<path d="M98,415 L140,419" stroke="#9a66b2" stroke-width="14" stroke-linecap="round" opacity="0.85"/>
<path d="M103,404 L139,408" stroke="#efe6ee" stroke-width="4" stroke-linecap="round" opacity="0.8"/>
<path d="M109,382 L149,392" stroke="#9a66b2" stroke-width="14" stroke-linecap="round" opacity="0.85"/>
<path d="M115,372 L150,380" stroke="#efe6ee" stroke-width="4" stroke-linecap="round" opacity="0.8"/>
<path d="M122,349 L161,365" stroke="#9a66b2" stroke-width="14" stroke-linecap="round" opacity="0.85"/>
<path d="M130,341 L163,354" stroke="#efe6ee" stroke-width="4" stroke-linecap="round" opacity="0.8"/>
<path d="M137,317 L173,338" stroke="#9a66b2" stroke-width="14" stroke-linecap="round" opacity="0.85"/>
<path d="M146,310 L177,328" stroke="#efe6ee" stroke-width="4" stroke-linecap="round" opacity="0.8"/>
<path d="M154,287 L187,313" stroke="#9a66b2" stroke-width="14" stroke-linecap="round" opacity="0.85"/>
<path d="M164,281 L193,303" stroke="#efe6ee" stroke-width="4" stroke-linecap="round" opacity="0.8"/>
<path d="M172,257 L202,287" stroke="#9a66b2" stroke-width="14" stroke-linecap="round" opacity="0.85"/>
<path d="M183,252 L208,278" stroke="#efe6ee" stroke-width="4" stroke-linecap="round" opacity="0.8"/>
<circle cx="128" cy="198" r="11" fill="#b45c98" opacity="0.75"/>
<circle cx="162" cy="153" r="11" fill="#b45c98" opacity="0.75"/>
<circle cx="215" cy="110" r="11" fill="#b45c98" opacity="0.75"/>
<circle cx="262" cy="95" r="11" fill="#b45c98" opacity="0.75"/>
<circle cx="300" cy="85" r="11" fill="#b45c98" opacity="0.75"/>
<circle cx="375" cy="95" r="11" fill="#b45c98" opacity="0.75"/>
<circle cx="430" cy="113" r="11" fill="#b45c98" opacity="0.75"/>
<circle cx="482" cy="158" r="11" fill="#b45c98" opacity="0.75"/>
<circle cx="530" cy="183" r="11" fill="#b45c98" opacity="0.75"/>
<circle cx="575" cy="213" r="11" fill="#b45c98" opacity="0.75"/>
<circle cx="610" cy="243" r="11" fill="#b45c98" opacity="0.75"/>
<circle cx="97" cy="253" r="11" fill="#b45c98" opacity="0.75"/>
<circle cx="72" cy="328" r="11" fill="#b45c98" opacity="0.75"/>
<circle cx="52" cy="388" r="11" fill="#b45c98" opacity="0.75"/>
<circle cx="60" cy="440" r="11" fill="#b45c98" opacity="0.75"/>
</g>
<g filter="url(#soft2)">
<path d="M245.0,215.0 C251.7,222.8 273.5,248.8 285.0,262.0 C296.5,275.2 309.2,288.7 314.0,294.0" fill="none" stroke="#faf7f4" stroke-width="73" stroke-linecap="round" stroke-linejoin="round"/>
<path d="M356.0,190.0 L368.0,252.0" fill="none" stroke="#faf7f4" stroke-width="63" stroke-linecap="round" stroke-linejoin="round"/>
<path d="M434.0,264.0 L388.0,324.0" fill="none" stroke="#faf7f4" stroke-width="71" stroke-linecap="round" stroke-linejoin="round"/>
<path d="M252.0,386.0 L304.0,376.0" fill="none" stroke="#faf7f4" stroke-width="91" stroke-linecap="round" stroke-linejoin="round"/>
<path d="M376.0,408.0 L414.0,406.0" fill="none" stroke="#faf7f4" stroke-width="83" stroke-linecap="round" stroke-linejoin="round"/>
<path d="M530.0,318.0 L508.0,422.0" fill="none" stroke="#faf7f4" stroke-width="63" stroke-linecap="round" stroke-linejoin="round"/>
<path d="M580.0,368.0 L594.0,448.0" fill="none" stroke="#faf7f4" stroke-width="87" stroke-linecap="round" stroke-linejoin="round"/>
<path d="M442.0,454.0 L494.0,458.0" fill="none" stroke="#faf7f4" stroke-width="63" stroke-linecap="round" stroke-linejoin="round"/>
<path d="M345.0,474.0 L420.0,484.0" fill="none" stroke="#faf7f4" stroke-width="63" stroke-linecap="round" stroke-linejoin="round"/>
<path d="M232.0,474.0 L292.0,504.0" fill="none" stroke="#faf7f4" stroke-width="59" stroke-linecap="round" stroke-linejoin="round"/>
<path d="M640.0,330.0 L668.0,420.0" fill="none" stroke="#faf7f4" stroke-width="57" stroke-linecap="round" stroke-linejoin="round"/>
<path d="M296.0,212.0 C302.7,206.3 329.7,201.3 338.0,206.0 C346.3,210.7 349.3,231.7 346.0,240.0 C342.7,248.3 326.0,256.0 318.0,256.0 C310.0,256.0 301.7,247.3 298.0,240.0 C294.3,232.7 289.3,217.7 296.0,212.0Z" fill="#faf7f4"/>
<path d="M200.0,172.0 C205.7,166.3 226.0,161.3 232.0,166.0 C238.0,170.7 239.3,190.7 236.0,200.0 C232.7,209.3 218.3,222.0 212.0,222.0 C205.7,222.0 200.0,208.3 198.0,200.0 C196.0,191.7 194.3,177.7 200.0,172.0Z" fill="#faf7f4"/>
<path d="M545.0,330.0 C551.7,325.0 588.8,318.7 600.0,322.0 C611.2,325.3 618.7,345.0 612.0,350.0 C605.3,355.0 571.2,355.3 560.0,352.0 C548.8,348.7 538.3,335.0 545.0,330.0Z" fill="#faf7f4"/>
<path d="M455.0,330.0 C458.3,313.7 475.5,310.3 480.0,322.0 C484.5,333.7 485.3,383.7 482.0,400.0 C478.7,416.3 464.5,431.7 460.0,420.0 C455.5,408.3 451.7,346.3 455.0,330.0Z" fill="#faf7f4"/>
</g>
<g filter="url(#rough2)">
<path d="M245.0,215.0 C251.7,222.8 273.5,248.8 285.0,262.0 C296.5,275.2 309.2,288.7 314.0,294.0" fill="none" stroke="#9a76b2" stroke-width="59" stroke-linecap="round" stroke-linejoin="round"/>
<path d="M245.0,215.0 C251.7,222.8 273.5,248.8 285.0,262.0 C296.5,275.2 309.2,288.7 314.0,294.0" fill="none" stroke="#b696ca" stroke-width="56" stroke-linecap="round" stroke-linejoin="round"/>
<path d="M245.0,215.0 C251.7,222.8 273.5,248.8 285.0,262.0 C296.5,275.2 309.2,288.7 314.0,294.0" fill="none" stroke="#dfd0e2" stroke-width="29.1" stroke-linecap="round" stroke-linejoin="round" filter="url(#spk2)"/>
<path d="M356.0,190.0 L368.0,252.0" fill="none" stroke="#9a76b2" stroke-width="49" stroke-linecap="round" stroke-linejoin="round"/>
<path d="M356.0,190.0 L368.0,252.0" fill="none" stroke="#b696ca" stroke-width="46" stroke-linecap="round" stroke-linejoin="round"/>
<path d="M356.0,190.0 L368.0,252.0" fill="none" stroke="#dfd0e2" stroke-width="23.9" stroke-linecap="round" stroke-linejoin="round" filter="url(#spk2)"/>
<path d="M434.0,264.0 L388.0,324.0" fill="none" stroke="#9a76b2" stroke-width="57" stroke-linecap="round" stroke-linejoin="round"/>
<path d="M434.0,264.0 L388.0,324.0" fill="none" stroke="#b696ca" stroke-width="54" stroke-linecap="round" stroke-linejoin="round"/>
<path d="M434.0,264.0 L388.0,324.0" fill="none" stroke="#dfd0e2" stroke-width="28.1" stroke-linecap="round" stroke-linejoin="round" filter="url(#spk2)"/>
<path d="M252.0,386.0 L304.0,376.0" fill="none" stroke="#9a76b2" stroke-width="77" stroke-linecap="round" stroke-linejoin="round"/>
<path d="M252.0,386.0 L304.0,376.0" fill="none" stroke="#b696ca" stroke-width="74" stroke-linecap="round" stroke-linejoin="round"/>
<path d="M252.0,386.0 L304.0,376.0" fill="none" stroke="#dfd0e2" stroke-width="38.5" stroke-linecap="round" stroke-linejoin="round" filter="url(#spk2)"/>
<path d="M376.0,408.0 L414.0,406.0" fill="none" stroke="#9a76b2" stroke-width="69" stroke-linecap="round" stroke-linejoin="round"/>
<path d="M376.0,408.0 L414.0,406.0" fill="none" stroke="#b696ca" stroke-width="66" stroke-linecap="round" stroke-linejoin="round"/>
<path d="M376.0,408.0 L414.0,406.0" fill="none" stroke="#dfd0e2" stroke-width="34.3" stroke-linecap="round" stroke-linejoin="round" filter="url(#spk2)"/>
<path d="M530.0,318.0 L508.0,422.0" fill="none" stroke="#9a76b2" stroke-width="49" stroke-linecap="round" stroke-linejoin="round"/>
<path d="M530.0,318.0 L508.0,422.0" fill="none" stroke="#b696ca" stroke-width="46" stroke-linecap="round" stroke-linejoin="round"/>
<path d="M530.0,318.0 L508.0,422.0" fill="none" stroke="#dfd0e2" stroke-width="23.9" stroke-linecap="round" stroke-linejoin="round" filter="url(#spk2)"/>
<path d="M580.0,368.0 L594.0,448.0" fill="none" stroke="#9a76b2" stroke-width="73" stroke-linecap="round" stroke-linejoin="round"/>
<path d="M580.0,368.0 L594.0,448.0" fill="none" stroke="#b696ca" stroke-width="70" stroke-linecap="round" stroke-linejoin="round"/>
<path d="M580.0,368.0 L594.0,448.0" fill="none" stroke="#dfd0e2" stroke-width="36.4" stroke-linecap="round" stroke-linejoin="round" filter="url(#spk2)"/>
<path d="M442.0,454.0 L494.0,458.0" fill="none" stroke="#9a76b2" stroke-width="49" stroke-linecap="round" stroke-linejoin="round"/>
<path d="M442.0,454.0 L494.0,458.0" fill="none" stroke="#b696ca" stroke-width="46" stroke-linecap="round" stroke-linejoin="round"/>
<path d="M442.0,454.0 L494.0,458.0" fill="none" stroke="#dfd0e2" stroke-width="23.9" stroke-linecap="round" stroke-linejoin="round" filter="url(#spk2)"/>
<path d="M345.0,474.0 L420.0,484.0" fill="none" stroke="#9a76b2" stroke-width="49" stroke-linecap="round" stroke-linejoin="round"/>
<path d="M345.0,474.0 L420.0,484.0" fill="none" stroke="#b696ca" stroke-width="46" stroke-linecap="round" stroke-linejoin="round"/>
<path d="M345.0,474.0 L420.0,484.0" fill="none" stroke="#dfd0e2" stroke-width="23.9" stroke-linecap="round" stroke-linejoin="round" filter="url(#spk2)"/>
<path d="M232.0,474.0 L292.0,504.0" fill="none" stroke="#9a76b2" stroke-width="45" stroke-linecap="round" stroke-linejoin="round"/>
<path d="M232.0,474.0 L292.0,504.0" fill="none" stroke="#b696ca" stroke-width="42" stroke-linecap="round" stroke-linejoin="round"/>
<path d="M232.0,474.0 L292.0,504.0" fill="none" stroke="#dfd0e2" stroke-width="21.8" stroke-linecap="round" stroke-linejoin="round" filter="url(#spk2)"/>
<path d="M640.0,330.0 L668.0,420.0" fill="none" stroke="#9a76b2" stroke-width="43" stroke-linecap="round" stroke-linejoin="round"/>
<path d="M640.0,330.0 L668.0,420.0" fill="none" stroke="#b696ca" stroke-width="40" stroke-linecap="round" stroke-linejoin="round"/>
<path d="M640.0,330.0 L668.0,420.0" fill="none" stroke="#dfd0e2" stroke-width="20.8" stroke-linecap="round" stroke-linejoin="round" filter="url(#spk2)"/>
<path d="M300.0,440.0 L312.0,462.0" fill="none" stroke="#6a2a55" stroke-width="12" stroke-linecap="round" stroke-linejoin="round"/>
<path d="M395.0,370.0 L415.0,378.0" fill="none" stroke="#8a4a6a" stroke-width="9" stroke-linecap="round" stroke-linejoin="round"/>
</g>
<g><rect x="588" y="484" width="62" height="2" fill="#555"/><text x="618" y="499" font-size="10" text-anchor="middle" fill="#555">100 µm</text></g>
</g>
<g transform="translate(430.7,370) scale(0.22891,0.22854)" clip-path="url(#clip3)">
<rect x="0" y="0" width="685" height="515" fill="#f8f9f4"/>
<g filter="url(#rough3)">
<path d="M-30.0,150.0 C-22.3,74.0 -0.3,103.0 16.0,84.0 C32.3,65.0 45.7,50.0 68.0,36.0 C90.3,22.0 111.3,6.7 150.0,0.0 C188.7,-6.7 258.0,-11.7 300.0,-4.0 C342.0,3.7 371.3,22.3 402.0,46.0 C432.7,69.7 461.7,104.0 484.0,138.0 C506.3,172.0 522.3,209.7 536.0,250.0 C549.7,290.3 557.0,331.7 566.0,380.0 C575.0,428.3 689.3,513.3 590.0,540.0 C490.7,566.7 73.3,605.0 -30.0,540.0 C-133.3,475.0 -37.7,226.0 -30.0,150.0Z" fill="#cfa4c6"/>
<path d="M-30.0,160.0 C-21.3,86.0 4.3,114.3 22.0,96.0 C39.7,77.7 54.3,63.7 76.0,50.0 C97.7,36.3 115.0,20.7 152.0,14.0 C189.0,7.3 258.0,2.7 298.0,10.0 C338.0,17.3 363.0,35.0 392.0,58.0 C421.0,81.0 450.3,115.0 472.0,148.0 C493.7,181.0 509.0,217.0 522.0,256.0 C535.0,295.0 541.7,334.7 550.0,382.0 C558.3,429.3 668.7,513.7 572.0,540.0 C475.3,566.3 70.3,603.3 -30.0,540.0 C-130.3,476.7 -38.7,234.0 -30.0,160.0Z" fill="#9470b2"/>
<path d="M-25,159 L10,197" stroke="#7e559e" stroke-width="12" stroke-linecap="round" opacity="0.9"/>
<path d="M-14,157 L20,194" stroke="#e6dcea" stroke-width="3" stroke-linecap="round" opacity="0.7"/>
<path d="M-13,135 L27,185" stroke="#8a62a8" stroke-width="12" stroke-linecap="round" opacity="0.9"/>
<path d="M-2,134 L37,182" stroke="#e6dcea" stroke-width="3" stroke-linecap="round" opacity="0.7"/>
<path d="M5,117 L44,172" stroke="#744a96" stroke-width="12" stroke-linecap="round" opacity="0.9"/>
<path d="M16,117 L53,171" stroke="#e6dcea" stroke-width="3" stroke-linecap="round" opacity="0.7"/>
<path d="M23,100 L53,149" stroke="#7e559e" stroke-width="12" stroke-linecap="round" opacity="0.9"/>
<path d="M34,101 L62,148" stroke="#e6dcea" stroke-width="3" stroke-linecap="round" opacity="0.7"/>
<path d="M44,87 L71,140" stroke="#8a62a8" stroke-width="12" stroke-linecap="round" opacity="0.9"/>
<path d="M54,88 L81,139" stroke="#e6dcea" stroke-width="3" stroke-linecap="round" opacity="0.7"/>
<path d="M60,65 L89,131" stroke="#744a96" stroke-width="12" stroke-linecap="round" opacity="0.9"/>
<path d="M71,67 L99,131" stroke="#e6dcea" stroke-width="3" stroke-linecap="round" opacity="0.7"/>
<path d="M81,51 L102,109" stroke="#7e559e" stroke-width="12" stroke-linecap="round" opacity="0.9"/>
<path d="M91,54 L112,110" stroke="#e6dcea" stroke-width="3" stroke-linecap="round" opacity="0.7"/>
<path d="M104,43 L123,105" stroke="#8a62a8" stroke-width="12" stroke-linecap="round" opacity="0.9"/>
<path d="M115,46 L133,107" stroke="#e6dcea" stroke-width="3" stroke-linecap="round" opacity="0.7"/>
<path d="M128,36 L140,89" stroke="#744a96" stroke-width="12" stroke-linecap="round" opacity="0.9"/>
<path d="M138,39 L150,91" stroke="#e6dcea" stroke-width="3" stroke-linecap="round" opacity="0.7"/>
<path d="M152,28 L161,86" stroke="#7e559e" stroke-width="12" stroke-linecap="round" opacity="0.9"/>
<path d="M161,33 L170,88" stroke="#e6dcea" stroke-width="3" stroke-linecap="round" opacity="0.7"/>
<path d="M175,17 L182,86" stroke="#8a62a8" stroke-width="12" stroke-linecap="round" opacity="0.9"/>
<path d="M185,22 L191,89" stroke="#e6dcea" stroke-width="3" stroke-linecap="round" opacity="0.7"/>
<path d="M200,15 L202,75" stroke="#744a96" stroke-width="12" stroke-linecap="round" opacity="0.9"/>
<path d="M209,21 L212,79" stroke="#e6dcea" stroke-width="3" stroke-linecap="round" opacity="0.7"/>
<path d="M225,14 L223,77" stroke="#7e559e" stroke-width="12" stroke-linecap="round" opacity="0.9"/>
<path d="M234,20 L232,81" stroke="#e6dcea" stroke-width="3" stroke-linecap="round" opacity="0.7"/>
<path d="M250,17 L245,70" stroke="#8a62a8" stroke-width="12" stroke-linecap="round" opacity="0.9"/>
<path d="M258,23 L254,74" stroke="#e6dcea" stroke-width="3" stroke-linecap="round" opacity="0.7"/>
<path d="M275,12 L266,76" stroke="#744a96" stroke-width="12" stroke-linecap="round" opacity="0.9"/>
<path d="M283,19 L274,82" stroke="#e6dcea" stroke-width="3" stroke-linecap="round" opacity="0.7"/>
<path d="M300,17 L286,83" stroke="#7e559e" stroke-width="12" stroke-linecap="round" opacity="0.9"/>
<path d="M308,24 L294,89" stroke="#e6dcea" stroke-width="3" stroke-linecap="round" opacity="0.7"/>
<path d="M322,30 L306,86" stroke="#8a62a8" stroke-width="12" stroke-linecap="round" opacity="0.9"/>
<path d="M329,38 L314,92" stroke="#e6dcea" stroke-width="3" stroke-linecap="round" opacity="0.7"/>
<path d="M343,44 L323,102" stroke="#744a96" stroke-width="12" stroke-linecap="round" opacity="0.9"/>
<path d="M349,53 L330,109" stroke="#e6dcea" stroke-width="3" stroke-linecap="round" opacity="0.7"/>
<path d="M364,58 L340,117" stroke="#7e559e" stroke-width="12" stroke-linecap="round" opacity="0.9"/>
<path d="M370,67 L346,125" stroke="#e6dcea" stroke-width="3" stroke-linecap="round" opacity="0.7"/>
<path d="M388,65 L360,122" stroke="#8a62a8" stroke-width="12" stroke-linecap="round" opacity="0.9"/>
<path d="M393,75 L366,129" stroke="#e6dcea" stroke-width="3" stroke-linecap="round" opacity="0.7"/>
<path d="M404,85 L371,143" stroke="#744a96" stroke-width="12" stroke-linecap="round" opacity="0.9"/>
<path d="M409,95 L377,151" stroke="#e6dcea" stroke-width="3" stroke-linecap="round" opacity="0.7"/>
<path d="M420,105 L389,152" stroke="#7e559e" stroke-width="12" stroke-linecap="round" opacity="0.9"/>
<path d="M424,115 L395,160" stroke="#e6dcea" stroke-width="3" stroke-linecap="round" opacity="0.7"/>
<path d="M436,125 L400,172" stroke="#8a62a8" stroke-width="12" stroke-linecap="round" opacity="0.9"/>
<path d="M439,135 L405,181" stroke="#e6dcea" stroke-width="3" stroke-linecap="round" opacity="0.7"/>
<path d="M457,138 L411,192" stroke="#744a96" stroke-width="12" stroke-linecap="round" opacity="0.9"/>
<path d="M460,149 L415,201" stroke="#e6dcea" stroke-width="3" stroke-linecap="round" opacity="0.7"/>
<path d="M469,161 L426,205" stroke="#7e559e" stroke-width="12" stroke-linecap="round" opacity="0.9"/>
<path d="M471,172 L430,214" stroke="#e6dcea" stroke-width="3" stroke-linecap="round" opacity="0.7"/>
<path d="M479,185 L431,228" stroke="#8a62a8" stroke-width="12" stroke-linecap="round" opacity="0.9"/>
<path d="M480,196 L434,237" stroke="#e6dcea" stroke-width="3" stroke-linecap="round" opacity="0.7"/>
<path d="M489,209 L446,242" stroke="#744a96" stroke-width="12" stroke-linecap="round" opacity="0.9"/>
<path d="M489,220 L448,251" stroke="#e6dcea" stroke-width="3" stroke-linecap="round" opacity="0.7"/>
<path d="M498,232 L450,264" stroke="#7e559e" stroke-width="12" stroke-linecap="round" opacity="0.9"/>
<path d="M498,243 L452,274" stroke="#e6dcea" stroke-width="3" stroke-linecap="round" opacity="0.7"/>
<path d="M514,252 L454,286" stroke="#8a62a8" stroke-width="12" stroke-linecap="round" opacity="0.9"/>
<path d="M513,263 L455,295" stroke="#e6dcea" stroke-width="3" stroke-linecap="round" opacity="0.7"/>
<path d="M518,277 L465,303" stroke="#744a96" stroke-width="12" stroke-linecap="round" opacity="0.9"/>
<path d="M517,288 L465,312" stroke="#e6dcea" stroke-width="3" stroke-linecap="round" opacity="0.7"/>
<path d="M522,303 L464,325" stroke="#7e559e" stroke-width="12" stroke-linecap="round" opacity="0.9"/>
<path d="M520,314 L464,335" stroke="#e6dcea" stroke-width="3" stroke-linecap="round" opacity="0.7"/>
<path d="M526,328 L463,347" stroke="#8a62a8" stroke-width="12" stroke-linecap="round" opacity="0.9"/>
<path d="M522,339 L462,356" stroke="#e6dcea" stroke-width="3" stroke-linecap="round" opacity="0.7"/>
<path d="M538,351 L475,365" stroke="#744a96" stroke-width="12" stroke-linecap="round" opacity="0.9"/>
<path d="M534,362 L473,374" stroke="#e6dcea" stroke-width="3" stroke-linecap="round" opacity="0.7"/>
<path d="M541,377 L475,386" stroke="#7e559e" stroke-width="12" stroke-linecap="round" opacity="0.9"/>
<path d="M536,387 L472,395" stroke="#e6dcea" stroke-width="3" stroke-linecap="round" opacity="0.7"/>
<path d="M543,402 L486,405" stroke="#8a62a8" stroke-width="12" stroke-linecap="round" opacity="0.9"/>
<path d="M537,412 L482,415" stroke="#e6dcea" stroke-width="3" stroke-linecap="round" opacity="0.7"/>
<path d="M544,428 L484,426" stroke="#744a96" stroke-width="12" stroke-linecap="round" opacity="0.9"/>
<path d="M537,436 L480,435" stroke="#e6dcea" stroke-width="3" stroke-linecap="round" opacity="0.7"/>
<path d="M545,452 L482,446" stroke="#7e559e" stroke-width="12" stroke-linecap="round" opacity="0.9"/>
<path d="M538,461 L477,455" stroke="#e6dcea" stroke-width="3" stroke-linecap="round" opacity="0.7"/>
<path d="M554,478 L493,468" stroke="#8a62a8" stroke-width="12" stroke-linecap="round" opacity="0.9"/>
<path d="M547,486 L488,476" stroke="#e6dcea" stroke-width="3" stroke-linecap="round" opacity="0.7"/>
<path d="M555,503 L492,488" stroke="#744a96" stroke-width="12" stroke-linecap="round" opacity="0.9"/>
<path d="M547,510 L486,496" stroke="#e6dcea" stroke-width="3" stroke-linecap="round" opacity="0.7"/>
<path d="M556,528 L503,511" stroke="#7e559e" stroke-width="12" stroke-linecap="round" opacity="0.9"/>
<path d="M547,534 L497,518" stroke="#e6dcea" stroke-width="3" stroke-linecap="round" opacity="0.7"/>
<circle cx="500" cy="320" r="9" fill="#a8488a" opacity="0.7"/>
<circle cx="512" cy="370" r="9" fill="#a8488a" opacity="0.7"/>
<circle cx="522" cy="420" r="9" fill="#a8488a" opacity="0.7"/>
<circle cx="530" cy="468" r="9" fill="#a8488a" opacity="0.7"/>
<circle cx="468" cy="228" r="9" fill="#a8488a" opacity="0.7"/>
<circle cx="428" cy="150" r="9" fill="#a8488a" opacity="0.7"/>
<circle cx="380" cy="95" r="9" fill="#a8488a" opacity="0.7"/>
</g>
<g filter="url(#soft3)">
<path d="M110.0,235.0 C128.3,243.8 129.2,273.3 150.0,285.0 C170.8,296.7 212.5,298.8 235.0,305.0 C257.5,311.2 274.8,302.8 285.0,322.0 C295.2,341.2 293.5,395.3 296.0,420.0 C298.5,444.7 306.0,450.0 300.0,470.0 C294.0,490.0 315.0,528.3 260.0,540.0 C205.0,551.7 18.3,588.3 -30.0,540.0 C-78.3,491.7 -41.7,301.3 -30.0,250.0 C-18.3,198.7 16.7,234.5 40.0,232.0 C63.3,229.5 91.7,226.2 110.0,235.0Z" fill="#fbfaf7"/>
<path d="M448.0,292.0 C433.3,293.7 386.0,298.3 360.0,302.0 C334.0,305.7 303.3,312.0 292.0,314.0" fill="none" stroke="#fbfaf7" stroke-width="51" stroke-linecap="round" stroke-linejoin="round"/>
<path d="M458.0,352.0 C443.3,352.0 398.3,351.0 370.0,352.0 C341.7,353.0 301.7,357.0 288.0,358.0" fill="none" stroke="#fbfaf7" stroke-width="51" stroke-linecap="round" stroke-linejoin="round"/>
<path d="M448.0,402.0 C433.3,401.7 386.0,400.0 360.0,400.0 C334.0,400.0 303.3,401.7 292.0,402.0" fill="none" stroke="#fbfaf7" stroke-width="51" stroke-linecap="round" stroke-linejoin="round"/>
<path d="M425.0,447.0 L322.0,444.0" fill="none" stroke="#fbfaf7" stroke-width="45" stroke-linecap="round" stroke-linejoin="round"/>
<path d="M298.0,262.0 L268.0,292.0" fill="none" stroke="#fbfaf7" stroke-width="45" stroke-linecap="round" stroke-linejoin="round"/>
<path d="M160.0,112.0 L158.0,178.0" fill="none" stroke="#fbfaf7" stroke-width="65" stroke-linecap="round" stroke-linejoin="round"/>
<path d="M226.0,98.0 L228.0,136.0" fill="none" stroke="#fbfaf7" stroke-width="51" stroke-linecap="round" stroke-linejoin="round"/>
<path d="M212.0,180.0 L260.0,178.0" fill="none" stroke="#fbfaf7" stroke-width="61" stroke-linecap="round" stroke-linejoin="round"/>
<path d="M182.0,218.0 L226.0,284.0" fill="none" stroke="#fbfaf7" stroke-width="55" stroke-linecap="round" stroke-linejoin="round"/>
<path d="M368.0,166.0 L338.0,274.0" fill="none" stroke="#fbfaf7" stroke-width="69" stroke-linecap="round" stroke-linejoin="round"/>
<path d="M290.0,76.0 C291.7,88.3 300.7,126.3 300.0,150.0 C299.3,173.7 288.3,206.7 286.0,218.0" fill="none" stroke="#fbfaf7" stroke-width="57" stroke-linecap="round" stroke-linejoin="round"/>
<path d="M228.0,437.0 L298.0,470.0" fill="none" stroke="#fbfaf7" stroke-width="45" stroke-linecap="round" stroke-linejoin="round"/>
<path d="M312.0,432.0 L372.0,446.0" fill="none" stroke="#fbfaf7" stroke-width="41" stroke-linecap="round" stroke-linejoin="round"/>
<path d="M130.0,70.0 C138.3,61.3 178.3,54.7 190.0,58.0 C201.7,61.3 208.3,81.3 200.0,90.0 C191.7,98.7 151.7,113.3 140.0,110.0 C128.3,106.7 121.7,78.7 130.0,70.0Z" fill="#fbfaf7"/>
<path d="M190.0,140.0 C201.7,135.0 255.0,126.7 270.0,130.0 C285.0,133.3 291.7,155.0 280.0,160.0 C268.3,165.0 215.0,163.3 200.0,160.0 C185.0,156.7 178.3,145.0 190.0,140.0Z" fill="#fbfaf7"/>
<path d="M270.0,200.0 C275.0,186.7 310.0,171.7 320.0,180.0 C330.0,188.3 335.0,236.7 330.0,250.0 C325.0,263.3 300.0,268.3 290.0,260.0 C280.0,251.7 265.0,213.3 270.0,200.0Z" fill="#fbfaf7"/>
</g>
<g filter="url(#rough3)">
<path d="M448.0,292.0 C433.3,293.7 386.0,298.3 360.0,302.0 C334.0,305.7 303.3,312.0 292.0,314.0" fill="none" stroke="#77509a" stroke-width="43" stroke-linecap="round" stroke-linejoin="round"/>
<path d="M448.0,292.0 C433.3,293.7 386.0,298.3 360.0,302.0 C334.0,305.7 303.3,312.0 292.0,314.0" fill="none" stroke="#9470b2" stroke-width="40" stroke-linecap="round" stroke-linejoin="round"/>
<path d="M448.0,292.0 C433.3,293.7 386.0,298.3 360.0,302.0 C334.0,305.7 303.3,312.0 292.0,314.0" fill="none" stroke="#d4c2da" stroke-width="18.0" stroke-linecap="round" stroke-linejoin="round" filter="url(#spk3)"/>
<path d="M458.0,352.0 C443.3,352.0 398.3,351.0 370.0,352.0 C341.7,353.0 301.7,357.0 288.0,358.0" fill="none" stroke="#77509a" stroke-width="43" stroke-linecap="round" stroke-linejoin="round"/>
<path d="M458.0,352.0 C443.3,352.0 398.3,351.0 370.0,352.0 C341.7,353.0 301.7,357.0 288.0,358.0" fill="none" stroke="#9470b2" stroke-width="40" stroke-linecap="round" stroke-linejoin="round"/>
<path d="M458.0,352.0 C443.3,352.0 398.3,351.0 370.0,352.0 C341.7,353.0 301.7,357.0 288.0,358.0" fill="none" stroke="#d4c2da" stroke-width="18.0" stroke-linecap="round" stroke-linejoin="round" filter="url(#spk3)"/>
<path d="M448.0,402.0 C433.3,401.7 386.0,400.0 360.0,400.0 C334.0,400.0 303.3,401.7 292.0,402.0" fill="none" stroke="#77509a" stroke-width="43" stroke-linecap="round" stroke-linejoin="round"/>
<path d="M448.0,402.0 C433.3,401.7 386.0,400.0 360.0,400.0 C334.0,400.0 303.3,401.7 292.0,402.0" fill="none" stroke="#9470b2" stroke-width="40" stroke-linecap="round" stroke-linejoin="round"/>
<path d="M448.0,402.0 C433.3,401.7 386.0,400.0 360.0,400.0 C334.0,400.0 303.3,401.7 292.0,402.0" fill="none" stroke="#d4c2da" stroke-width="18.0" stroke-linecap="round" stroke-linejoin="round" filter="url(#spk3)"/>
<path d="M425.0,447.0 L322.0,444.0" fill="none" stroke="#77509a" stroke-width="37" stroke-linecap="round" stroke-linejoin="round"/>
<path d="M425.0,447.0 L322.0,444.0" fill="none" stroke="#9470b2" stroke-width="34" stroke-linecap="round" stroke-linejoin="round"/>
<path d="M425.0,447.0 L322.0,444.0" fill="none" stroke="#d4c2da" stroke-width="15.3" stroke-linecap="round" stroke-linejoin="round" filter="url(#spk3)"/>
<path d="M298.0,262.0 L268.0,292.0" fill="none" stroke="#77509a" stroke-width="37" stroke-linecap="round" stroke-linejoin="round"/>
<path d="M298.0,262.0 L268.0,292.0" fill="none" stroke="#9470b2" stroke-width="34" stroke-linecap="round" stroke-linejoin="round"/>
<path d="M298.0,262.0 L268.0,292.0" fill="none" stroke="#d4c2da" stroke-width="15.3" stroke-linecap="round" stroke-linejoin="round" filter="url(#spk3)"/>
<path d="M160.0,112.0 L158.0,178.0" fill="none" stroke="#77509a" stroke-width="57" stroke-linecap="round" stroke-linejoin="round"/>
<path d="M160.0,112.0 L158.0,178.0" fill="none" stroke="#9470b2" stroke-width="54" stroke-linecap="round" stroke-linejoin="round"/>
<path d="M160.0,112.0 L158.0,178.0" fill="none" stroke="#d4c2da" stroke-width="24.3" stroke-linecap="round" stroke-linejoin="round" filter="url(#spk3)"/>
<path d="M226.0,98.0 L228.0,136.0" fill="none" stroke="#77509a" stroke-width="43" stroke-linecap="round" stroke-linejoin="round"/>
<path d="M226.0,98.0 L228.0,136.0" fill="none" stroke="#9470b2" stroke-width="40" stroke-linecap="round" stroke-linejoin="round"/>
<path d="M226.0,98.0 L228.0,136.0" fill="none" stroke="#d4c2da" stroke-width="18.0" stroke-linecap="round" stroke-linejoin="round" filter="url(#spk3)"/>
<path d="M212.0,180.0 L260.0,178.0" fill="none" stroke="#77509a" stroke-width="53" stroke-linecap="round" stroke-linejoin="round"/>
<path d="M212.0,180.0 L260.0,178.0" fill="none" stroke="#9470b2" stroke-width="50" stroke-linecap="round" stroke-linejoin="round"/>
<path d="M212.0,180.0 L260.0,178.0" fill="none" stroke="#d4c2da" stroke-width="22.5" stroke-linecap="round" stroke-linejoin="round" filter="url(#spk3)"/>
<path d="M182.0,218.0 L226.0,284.0" fill="none" stroke="#77509a" stroke-width="47" stroke-linecap="round" stroke-linejoin="round"/>
<path d="M182.0,218.0 L226.0,284.0" fill="none" stroke="#9470b2" stroke-width="44" stroke-linecap="round" stroke-linejoin="round"/>
<path d="M182.0,218.0 L226.0,284.0" fill="none" stroke="#d4c2da" stroke-width="19.8" stroke-linecap="round" stroke-linejoin="round" filter="url(#spk3)"/>
<path d="M368.0,166.0 L338.0,274.0" fill="none" stroke="#77509a" stroke-width="61" stroke-linecap="round" stroke-linejoin="round"/>
<path d="M368.0,166.0 L338.0,274.0" fill="none" stroke="#9470b2" stroke-width="58" stroke-linecap="round" stroke-linejoin="round"/>
<path d="M368.0,166.0 L338.0,274.0" fill="none" stroke="#d4c2da" stroke-width="26.1" stroke-linecap="round" stroke-linejoin="round" filter="url(#spk3)"/>
<path d="M290.0,76.0 C291.7,88.3 300.7,126.3 300.0,150.0 C299.3,173.7 288.3,206.7 286.0,218.0" fill="none" stroke="#77509a" stroke-width="49" stroke-linecap="round" stroke-linejoin="round"/>
<path d="M290.0,76.0 C291.7,88.3 300.7,126.3 300.0,150.0 C299.3,173.7 288.3,206.7 286.0,218.0" fill="none" stroke="#9470b2" stroke-width="46" stroke-linecap="round" stroke-linejoin="round"/>
<path d="M290.0,76.0 C291.7,88.3 300.7,126.3 300.0,150.0 C299.3,173.7 288.3,206.7 286.0,218.0" fill="none" stroke="#d4c2da" stroke-width="20.7" stroke-linecap="round" stroke-linejoin="round" filter="url(#spk3)"/>
<path d="M228.0,437.0 L298.0,470.0" fill="none" stroke="#77509a" stroke-width="37" stroke-linecap="round" stroke-linejoin="round"/>
<path d="M228.0,437.0 L298.0,470.0" fill="none" stroke="#9470b2" stroke-width="34" stroke-linecap="round" stroke-linejoin="round"/>
<path d="M228.0,437.0 L298.0,470.0" fill="none" stroke="#d4c2da" stroke-width="15.3" stroke-linecap="round" stroke-linejoin="round" filter="url(#spk3)"/>
<path d="M312.0,432.0 L372.0,446.0" fill="none" stroke="#77509a" stroke-width="33" stroke-linecap="round" stroke-linejoin="round"/>
<path d="M312.0,432.0 L372.0,446.0" fill="none" stroke="#9470b2" stroke-width="30" stroke-linecap="round" stroke-linejoin="round"/>
<path d="M312.0,432.0 L372.0,446.0" fill="none" stroke="#d4c2da" stroke-width="13.5" stroke-linecap="round" stroke-linejoin="round" filter="url(#spk3)"/>
<path d="M-10.0,262.0 C1.7,265.3 42.5,274.8 60.0,282.0 C77.5,289.2 89.2,301.2 95.0,305.0" fill="none" stroke="#9c7eac" stroke-width="39" stroke-linecap="round" stroke-linejoin="round"/>
<path d="M-10.0,262.0 C1.7,265.3 42.5,274.8 60.0,282.0 C77.5,289.2 89.2,301.2 95.0,305.0" fill="none" stroke="#b9a0c4" stroke-width="36" stroke-linecap="round" stroke-linejoin="round"/>
<path d="M-10.0,262.0 C1.7,265.3 42.5,274.8 60.0,282.0 C77.5,289.2 89.2,301.2 95.0,305.0" fill="none" stroke="#e0d4e2" stroke-width="16.2" stroke-linecap="round" stroke-linejoin="round" filter="url(#spk3)"/>
<path d="M15.0,338.0 C24.2,343.7 55.8,363.0 70.0,372.0 C84.2,381.0 95.0,388.7 100.0,392.0" fill="none" stroke="#9c7eac" stroke-width="37" stroke-linecap="round" stroke-linejoin="round"/>
<path d="M15.0,338.0 C24.2,343.7 55.8,363.0 70.0,372.0 C84.2,381.0 95.0,388.7 100.0,392.0" fill="none" stroke="#b9a0c4" stroke-width="34" stroke-linecap="round" stroke-linejoin="round"/>
<path d="M15.0,338.0 C24.2,343.7 55.8,363.0 70.0,372.0 C84.2,381.0 95.0,388.7 100.0,392.0" fill="none" stroke="#e0d4e2" stroke-width="15.3" stroke-linecap="round" stroke-linejoin="round" filter="url(#spk3)"/>
<path d="M-10.0,420.0 C-1.7,425.8 26.7,443.0 40.0,455.0 C53.3,467.0 65.0,485.8 70.0,492.0" fill="none" stroke="#9c7eac" stroke-width="39" stroke-linecap="round" stroke-linejoin="round"/>
<path d="M-10.0,420.0 C-1.7,425.8 26.7,443.0 40.0,455.0 C53.3,467.0 65.0,485.8 70.0,492.0" fill="none" stroke="#b9a0c4" stroke-width="36" stroke-linecap="round" stroke-linejoin="round"/>
<path d="M-10.0,420.0 C-1.7,425.8 26.7,443.0 40.0,455.0 C53.3,467.0 65.0,485.8 70.0,492.0" fill="none" stroke="#e0d4e2" stroke-width="16.2" stroke-linecap="round" stroke-linejoin="round" filter="url(#spk3)"/>
<path d="M-10.0,196.0 C1.7,198.7 38.3,203.7 60.0,212.0 C81.7,220.3 110.0,240.3 120.0,246.0" fill="none" stroke="#9c7eac" stroke-width="47" stroke-linecap="round" stroke-linejoin="round"/>
<path d="M-10.0,196.0 C1.7,198.7 38.3,203.7 60.0,212.0 C81.7,220.3 110.0,240.3 120.0,246.0" fill="none" stroke="#b9a0c4" stroke-width="44" stroke-linecap="round" stroke-linejoin="round"/>
<path d="M-10.0,196.0 C1.7,198.7 38.3,203.7 60.0,212.0 C81.7,220.3 110.0,240.3 120.0,246.0" fill="none" stroke="#e0d4e2" stroke-width="19.8" stroke-linecap="round" stroke-linejoin="round" filter="url(#spk3)"/>
<path d="M160.0,258.0 L165.0,272.0" fill="none" stroke="#5a2a3a" stroke-width="14" stroke-linecap="round" stroke-linejoin="round"/>
<path d="M385.0,262.0 L390.0,270.0" fill="none" stroke="#5a2a3a" stroke-width="10" stroke-linecap="round" stroke-linejoin="round"/>
</g>
<g><rect x="590" y="478" width="72" height="2.5" fill="#333"/><text x="626" y="497" font-size="11" font-weight="bold" text-anchor="middle" fill="#333">100 µm</text></g>
</g>

<rect x="79.2" y="370" width="156.80" height="118.40" fill="none" stroke="#1a1a1a" stroke-width="1.3"/>
<rect x="251" y="370" width="156.50" height="117.50" fill="none" stroke="#1a1a1a" stroke-width="1.3"/>
<rect x="430.7" y="370" width="156.80" height="117.70" fill="none" stroke="#1a1a1a" stroke-width="1.3"/>
<text x="4.7" y="540" font-size="16.55" font-weight="bold" text-anchor="middle">c</text>
<line x1="72.50" y1="801.50" x2="325" y2="801.50" stroke="#a3a3a3" stroke-width="1.25"/>
<text x="63.30" y="807.90" text-anchor="end" font-size="16.3">0</text>
<line x1="72.50" y1="736.23" x2="325" y2="736.23" stroke="#a3a3a3" stroke-width="1.25"/>
<text x="63.30" y="742.62" text-anchor="end" font-size="16.3">10</text>
<line x1="72.50" y1="670.95" x2="325" y2="670.95" stroke="#a3a3a3" stroke-width="1.25"/>
<text x="63.30" y="677.35" text-anchor="end" font-size="16.3">20</text>
<line x1="72.50" y1="605.67" x2="325" y2="605.67" stroke="#a3a3a3" stroke-width="1.25"/>
<text x="63.30" y="612.07" text-anchor="end" font-size="16.3">30</text>
<line x1="72.50" y1="540.40" x2="325" y2="540.40" stroke="#a3a3a3" stroke-width="1.25"/>
<text x="63.30" y="546.80" text-anchor="end" font-size="16.3">40</text>
<line x1="77.5" y1="540.4" x2="77.5" y2="801.5" stroke="#a3a3a3" stroke-width="1.25"/>
<path d="M100.55,757.44 V753.20 M96.35,753.20 H104.75" stroke="#000" stroke-width="1.3" fill="none"/>
<path d="M119.15,762.79 V749.02 M114.95,749.02 H123.35" stroke="#000" stroke-width="1.3" fill="none"/>
<path d="M137.50,765.60 V750.59 M133.30,750.59 H141.70" stroke="#000" stroke-width="1.3" fill="none"/>
<path d="M182.90,768.60 V753.65 M178.70,753.65 H187.10" stroke="#000" stroke-width="1.3" fill="none"/>
<path d="M201.20,759.53 V748.63 M197.00,748.63 H205.40" stroke="#000" stroke-width="1.3" fill="none"/>
<path d="M219.55,769.32 V750.59 M215.35,750.59 H223.75" stroke="#000" stroke-width="1.3" fill="none"/>
<path d="M264.90,672.26 V663.12 M260.70,663.12 H269.10" stroke="#000" stroke-width="1.3" fill="none"/>
<path d="M283.60,625.26 V609.92 M279.40,609.92 H287.80" stroke="#000" stroke-width="1.3" fill="none"/>
<path d="M302.35,681.07 V663.97 M298.15,663.97 H306.55" stroke="#000" stroke-width="1.3" fill="none"/>
<rect x="91.20" y="757.44" width="18.70" height="44.06" fill="#fff" stroke="#000" stroke-width="1.3"/>
<rect x="109.90" y="762.79" width="18.50" height="38.71" fill="#000" stroke="#000" stroke-width="1.3"/>
<rect x="128.40" y="765.60" width="18.20" height="35.90" fill="#8a8a8a" stroke="#000" stroke-width="1.3"/>
<rect x="173.70" y="768.60" width="18.40" height="32.90" fill="#fff" stroke="#000" stroke-width="1.3"/>
<rect x="192.10" y="759.53" width="18.20" height="41.97" fill="#000" stroke="#000" stroke-width="1.3"/>
<rect x="210.30" y="769.32" width="18.50" height="32.18" fill="#8a8a8a" stroke="#000" stroke-width="1.3"/>
<rect x="255.70" y="672.26" width="18.40" height="129.24" fill="#fff" stroke="#000" stroke-width="1.3"/>
<rect x="274.10" y="625.26" width="19.00" height="176.24" fill="#000" stroke="#000" stroke-width="1.3"/>
<rect x="293.10" y="681.07" width="18.50" height="120.43" fill="#8a8a8a" stroke="#000" stroke-width="1.3"/>
<text transform="translate(26,675) rotate(-90)" text-anchor="middle" font-size="16.55" font-weight="bold">Total IgE (µg/ml)</text>
<line x1="433.50" y1="801.50" x2="685" y2="801.50" stroke="#a3a3a3" stroke-width="1.25"/>
<text x="424.30" y="807.90" text-anchor="end" font-size="16.3">0</text>
<line x1="433.50" y1="736.23" x2="685" y2="736.23" stroke="#a3a3a3" stroke-width="1.25"/>
<text x="424.30" y="742.62" text-anchor="end" font-size="16.3">0.1</text>
<line x1="433.50" y1="670.95" x2="685" y2="670.95" stroke="#a3a3a3" stroke-width="1.25"/>
<text x="424.30" y="677.35" text-anchor="end" font-size="16.3">0.2</text>
<line x1="433.50" y1="605.67" x2="685" y2="605.67" stroke="#a3a3a3" stroke-width="1.25"/>
<text x="424.30" y="612.07" text-anchor="end" font-size="16.3">0.3</text>
<line x1="433.50" y1="540.40" x2="685" y2="540.40" stroke="#a3a3a3" stroke-width="1.25"/>
<text x="424.30" y="546.80" text-anchor="end" font-size="16.3">0.4</text>
<line x1="438.5" y1="540.4" x2="438.5" y2="801.5" stroke="#a3a3a3" stroke-width="1.25"/>
<path d="M461.05,778.59 V776.17 M456.85,776.17 H465.25" stroke="#000" stroke-width="1.3" fill="none"/>
<path d="M479.50,777.94 V775.85 M475.30,775.85 H483.70" stroke="#000" stroke-width="1.3" fill="none"/>
<path d="M497.80,777.48 V775.39 M493.60,775.39 H502.00" stroke="#000" stroke-width="1.3" fill="none"/>
<path d="M543.25,777.02 V775.13 M539.05,775.13 H547.45" stroke="#000" stroke-width="1.3" fill="none"/>
<path d="M561.50,760.44 V754.18 M557.30,754.18 H565.70" stroke="#000" stroke-width="1.3" fill="none"/>
<path d="M579.80,776.70 V775.39 M575.60,775.39 H584.00" stroke="#000" stroke-width="1.3" fill="none"/>
<path d="M625.15,728.72 V688.38 M620.95,688.38 H629.35" stroke="#000" stroke-width="1.3" fill="none"/>
<path d="M643.60,663.38 V590.53 M639.40,590.53 H647.80" stroke="#000" stroke-width="1.3" fill="none"/>
<path d="M662.05,720.56 V698.37 M657.85,698.37 H666.25" stroke="#000" stroke-width="1.3" fill="none"/>
<rect x="451.70" y="778.59" width="18.70" height="22.91" fill="#fff" stroke="#000" stroke-width="1.3"/>
<rect x="470.40" y="777.94" width="18.20" height="23.56" fill="#000" stroke="#000" stroke-width="1.3"/>
<rect x="488.60" y="777.48" width="18.40" height="24.02" fill="#8a8a8a" stroke="#000" stroke-width="1.3"/>
<rect x="534.10" y="777.02" width="18.30" height="24.48" fill="#fff" stroke="#000" stroke-width="1.3"/>
<rect x="552.40" y="760.44" width="18.20" height="41.06" fill="#000" stroke="#000" stroke-width="1.3"/>
<rect x="570.60" y="776.70" width="18.40" height="24.80" fill="#8a8a8a" stroke="#000" stroke-width="1.3"/>
<rect x="616.40" y="728.72" width="17.50" height="72.78" fill="#fff" stroke="#000" stroke-width="1.3"/>
<rect x="633.90" y="663.38" width="19.40" height="138.12" fill="#000" stroke="#000" stroke-width="1.3"/>
<rect x="653.30" y="720.56" width="17.50" height="80.94" fill="#8a8a8a" stroke="#000" stroke-width="1.3"/>
<text transform="translate(384.5,671) rotate(-90)" text-anchor="middle" font-size="16.55" font-weight="bold">OVA-specific IgE (A 450 nm)</text>
<text x="160.3" y="825.6" text-anchor="middle" font-size="16.55" font-weight="bold">FMT</text>
<line x1="83.8" y1="834.2" x2="235.2" y2="834.2" stroke="#000" stroke-width="2.4"/>
<text x="119.7" y="859.1" text-anchor="middle" font-size="16.55" font-weight="bold">Before</text>
<text x="201.7" y="859.1" text-anchor="middle" font-size="16.55" font-weight="bold">After</text>
<text x="282.5" y="824.90" text-anchor="middle" font-size="16.55" font-weight="bold">After</text>
<text x="283.2" y="843.75" text-anchor="middle" font-size="16.55" font-weight="bold">OVA</text>
<text x="281.8" y="862.60" text-anchor="middle" font-size="16.55" font-weight="bold">challenge</text>
<text x="519.9" y="825.6" text-anchor="middle" font-size="16.55" font-weight="bold">FMT</text>
<line x1="444.1" y1="834.2" x2="594.9" y2="834.2" stroke="#000" stroke-width="2.4"/>
<text x="479.3" y="859.1" text-anchor="middle" font-size="16.55" font-weight="bold">Before</text>
<text x="561.8" y="859.1" text-anchor="middle" font-size="16.55" font-weight="bold">After</text>
<text x="643" y="824.90" text-anchor="middle" font-size="16.55" font-weight="bold">After</text>
<text x="642.6" y="843.75" text-anchor="middle" font-size="16.55" font-weight="bold">OVA</text>
<text x="641.8" y="862.60" text-anchor="middle" font-size="16.55" font-weight="bold">challenge</text>
<path d="M260.7,636.1 V561.7 Q260.7,559.5 262.9,559.5 H278.6 Q280.6,559.5 280.6,561.5 V590.9" fill="none" stroke="#000" stroke-width="1" stroke-dasharray="4.2 2.8"/>
<path d="M300.9,636.6 V561.7 Q300.9,559.5 298.7,559.5 H285.7 Q283.7,559.5 283.7,561.5 V590.9" fill="none" stroke="#000" stroke-width="1" stroke-dasharray="4.2 2.8"/>
<text x="269.1" y="557.00" text-anchor="middle" font-size="16" stroke="#000" stroke-width="0.3">**</text>
<text x="291.9" y="557.00" text-anchor="middle" font-size="16" stroke="#000" stroke-width="0.3">**</text>
<text x="282.7" y="607.20" text-anchor="middle" font-size="16" stroke="#000" stroke-width="0.3">**</text>
<text x="265.1" y="654.10" text-anchor="middle" font-size="16" stroke="#000" stroke-width="0.3">**</text>
<text x="301.2" y="655.30" text-anchor="middle" font-size="16" stroke="#000" stroke-width="0.3">**</text>
<path d="M626,662.5 V559.9 Q626,557.7 628.2,557.7 H641.1 Q643.1,557.7 643.1,559.7 V568.7" fill="none" stroke="#000" stroke-width="1" stroke-dasharray="4.2 2.8"/>
<path d="M663,662.5 V559.9 Q663,557.7 660.8,557.7 H647.9 Q645.9,557.7 645.9,559.7 V568.7" fill="none" stroke="#000" stroke-width="1" stroke-dasharray="4.2 2.8"/>
<text x="633.9" y="555.20" text-anchor="middle" font-size="16" stroke="#000" stroke-width="0.3">*</text>
<text x="654.6" y="555.20" text-anchor="middle" font-size="16" stroke="#000" stroke-width="0.3">*</text>
<text x="643.6" y="589.00" text-anchor="middle" font-size="16" stroke="#000" stroke-width="0.3">**</text>
<text x="625.4" y="684.40" text-anchor="middle" font-size="16" stroke="#000" stroke-width="0.3">**</text>
<text x="662.2" y="689.60" text-anchor="middle" font-size="16" stroke="#000" stroke-width="0.3">**</text>
</svg>
</body></html>
